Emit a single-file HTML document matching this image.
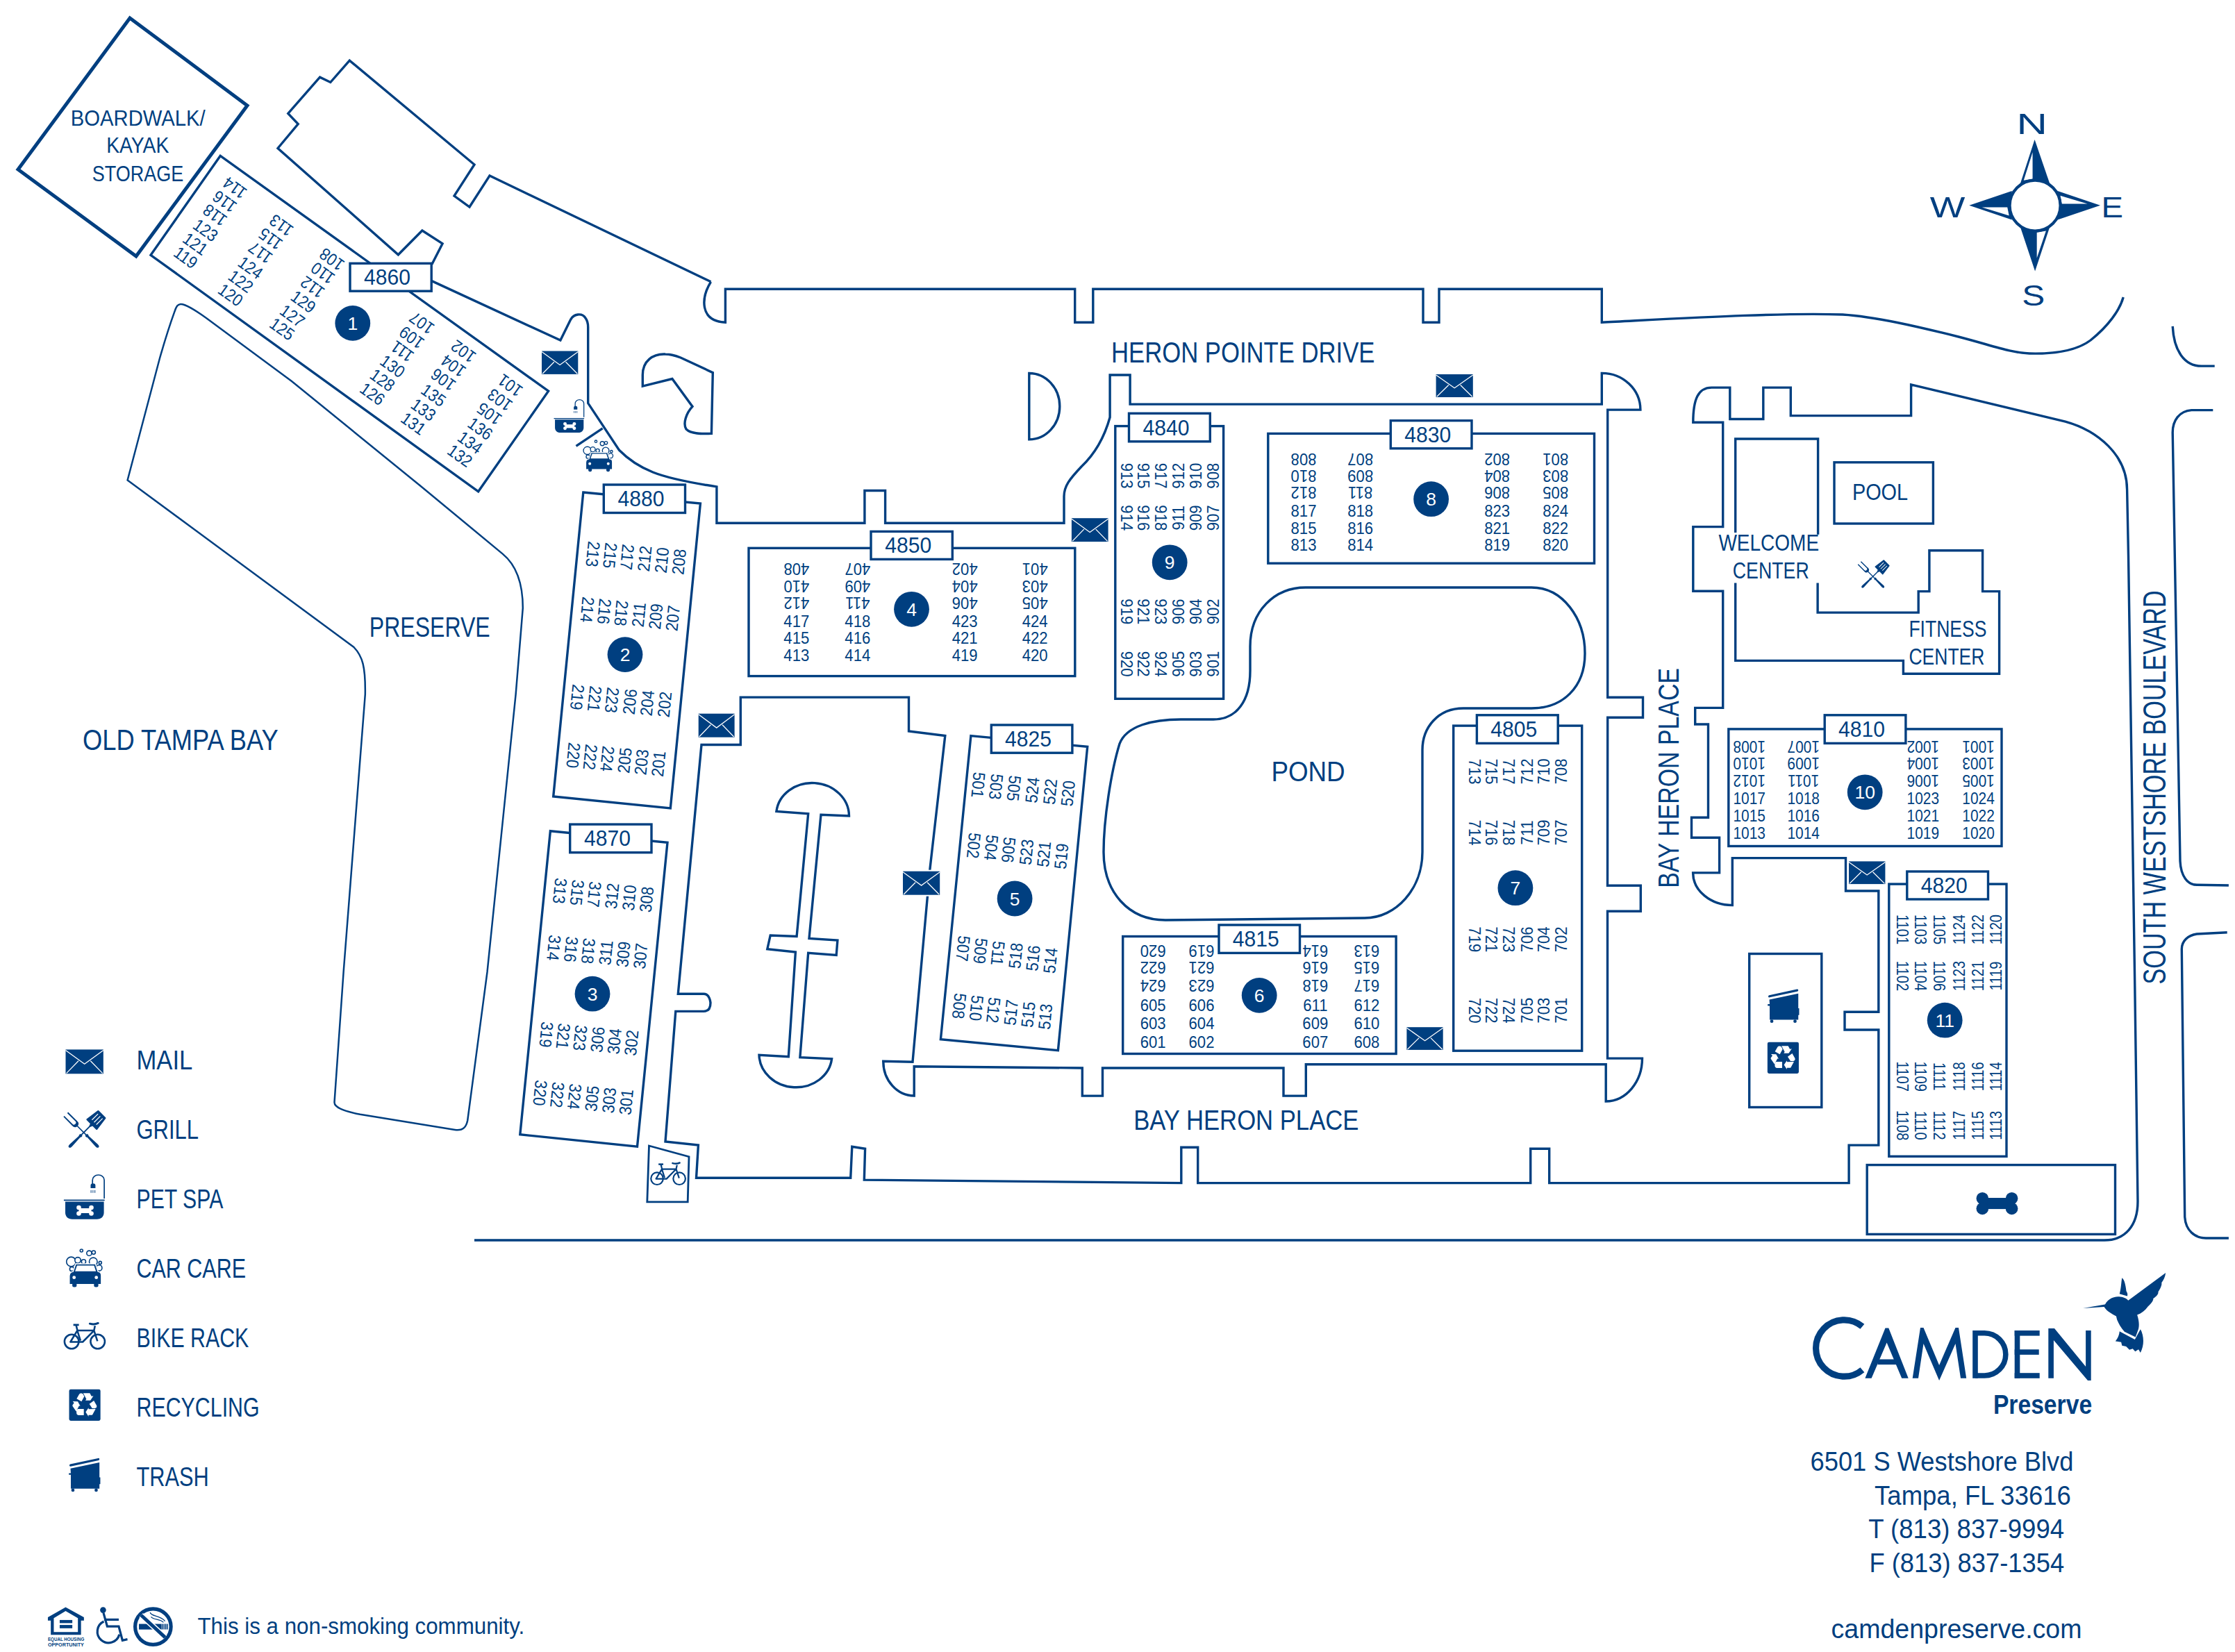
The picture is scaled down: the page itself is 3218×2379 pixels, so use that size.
<!DOCTYPE html>
<html><head><meta charset="utf-8"><style>
html,body{margin:0;padding:0;background:#fff;}
svg{display:block;}
text{font-family:"Liberation Sans",sans-serif;}
</style></head><body>
<svg width="3218" height="2379" viewBox="0 0 3218 2379">
<rect width="3218" height="2379" fill="#fff"/>
<path d="M187.0,26.0 L356.0,152.0 L196.0,369.0 L26.0,244.0 Z" fill="none" stroke="#003f80" stroke-width="5" />
<path d="M621.8,380.7 L637.1,350.9 L607.9,332.0 L573.4,366.8 L400.0,213.5 L429.2,178.6 L414.8,163.4 L460.6,111.1 L475.8,118.5 L503.3,87.1 L683.0,237.0 L654.0,282.0 L676.0,298.0 L705.0,253.0 L1023.5,405.8" fill="none" stroke="#003f80" stroke-width="3.4" />
<path d="M1023.5,405.8 C1010,428 1006,462 1044.4,464.3 L1044.4,416.3 L1547.7,416.3 L1547.7,464.2 L1573.8,464.2 L1573.8,416.3 L2049,416.3 L2049,464.2 L2072,464.2 L2072,416.3 L2306.3,416.3 L2306.3,464.2 C2420,458.5 2560,450 2653,453 C2700,456 2760,470 2820,485 C2870,498 2895,508 2922,509 C2960,510 2990,505 3010,490 C3035,470 3052,447 3057.2,428" fill="none" stroke="#003f80" stroke-width="3.4" />
<path d="M317.2,224.4 L789.6,563.2 L688.7,707.8 L217.0,367.3 Z" fill="none" stroke="#003f80" stroke-width="3.4" />
<path d="M621.2,404.4 L806.9,490.1 L821.7,460.1 C826,452 838,450 843,458 C846,462 846.7,466 846.7,471.2 L846.7,580.6 L891.3,648 C905,662 920,672 940,680 C965,690 1000,696 1031.9,700.9 L1031.9,753.2 L1244.9,753.2 L1244.9,706.5 L1274.6,706.5 L1274.6,753.2 L1532,753.2 L1532,714.8 C1532,700 1540,690 1557,672 C1575,655 1590,630 1598.1,601 L1598.1,540 L1627.1,540 L1627.1,582.1 L2306.3,582.1 L2306.3,537.4 A55.6,52.7 0 0 1 2361.9,590.1 L2314.7,590.1 L2314.7,1004.2 L2365.5,1004.2 L2365.5,1033.2 L2314.7,1033.2 L2314.5,1275.3 L2362.3,1275.3 L2362.3,1312.3 L2314.5,1312.3 L2314.5,1524.1 L2364.5,1524.1 A52.3,62 0 0 1 2312.2,1586 L2312.2,1532.8 L1880.3,1532.8 L1880.3,1578.1 L1848,1578.1 L1848,1538 L1587.5,1538 L1587.5,1578.1 L1558.3,1578.1 L1558.3,1538 L1316.2,1535.7 L1316.2,1578 A44.5,49.7 0 0 1 1271.7,1528.3 L1314,1529.2 L1339,1251 L1360.8,1059.5 L1308.5,1053 L1308.5,1004.1 L1066.3,1004.1 L1066.3,1072.5 L1010,1072.5 L976.3,1431.2 L1013.3,1431.2 C1022,1431.2 1023,1444 1023,1444 C1023,1452 1020,1456.4 1013.3,1456.4 L972.8,1456.4 L958,1643.9 L1005.4,1649.1 L1002.5,1696.3 L1224.7,1696.3 L1226.8,1651.2 L1245.6,1654.2 L1244.3,1699.1 L1700.8,1703.6 L1700.8,1652.2 L1724.7,1652.2 L1724.7,1703.6 L2203.7,1703.6 L2203.7,1654.3 L2230.7,1654.3 L2230.7,1703.6 L2662.1,1703.6 L2662.1,1649.1 L2704.8,1649.1 L2704.8,1483 L2656,1483 L2656,1457.3 L2704.8,1457.3 L2704.8,1283 L2657.5,1283 L2657.5,1235.6 L2494.3,1235.6 L2494.3,1303.6 A56.7,46.7 0 0 1 2437.6,1256.9 L2475.6,1256.9 L2475.6,1206.2 L2435.5,1206.2 L2435.5,1177.2 L2459.5,1177.2 L2459.5,1043 L2440.7,1043 L2440.7,1019.4 L2480.7,1019.4 L2480.7,851.3 L2437.8,851.3 L2437.8,758.6 L2480.7,758.6 L2480.7,608.2 L2437.8,608.2 C2437.8,575 2445,558.1 2464.3,558.1 L2490.8,558.1 L2490.8,603.5 L2538.8,603.5 L2538.8,558.1 L2578.3,558.1 L2578.3,598.6 L2751.6,598.6 L2751.6,553.8 L2973.7,607.1 C3020,620 3062.6,655 3062.6,705.2 L3064.5,800 L3073.8,1420 L3078,1730 C3078,1765 3060,1786 3030,1786 L683,1786" fill="none" stroke="#003f80" stroke-width="3.4" />
<path d="M829.5,642.4 L867.6,616.8" fill="none" stroke="#003f80" stroke-width="3.4" />
<path d="M3128.2,469.8 C3130,505 3145,527.1 3169.8,527.1 L3188.7,527.1" fill="none" stroke="#003f80" stroke-width="3.4" />
<path d="M3186.3,590.6 L3155.3,590.6 C3138,592 3128.2,605 3128.2,622.8 L3139,1240 C3140,1262 3150,1274.3 3163,1274.3 L3208.9,1275" fill="none" stroke="#003f80" stroke-width="3.4" />
<path d="M3206.7,1342.7 L3163,1345 C3150,1347 3141.3,1355 3141.3,1366.7 L3145.7,1752.5 C3147,1772 3160,1783 3176.2,1783 L3208.9,1783" fill="none" stroke="#003f80" stroke-width="3.4" />
<path d="M259,438.2 C266,437 280,446 297,458 L420,549 L605.7,700 L723.7,797.6 C745,815 752.8,845 752.8,875.7 L742.6,999.9 L701.5,1400 L673.2,1613.5 C671,1625 665,1628.5 655,1627 L518.5,1604.8 C495,1600 481.5,1595 481.5,1587.4 L494.6,1400 L525.8,999.9 C526.4,960 522,945 509.5,932 L183.6,691.4 L229.9,516.2 C242,474 248,458 252,447 C254,441 256,438.5 259,438.2 Z" fill="none" stroke="#003f80" stroke-width="2.5" />
<path d="M925.3,556.1 L925.3,540 C925.3,520 940,509 958,510 C966,510 972,512 980,515 L1026.3,536.6 L1024.4,624.3 C1010,625 995,625 988,618 C983,610 988,595 997,585.4 L967.9,545.5 Z" fill="none" stroke="#003f80" stroke-width="3.4" />
<path d="M1481.8,537.5 A44,47.7 0 0 1 1481.8,632.9 Z" fill="none" stroke="#003f80" stroke-width="3.4" />
<path d="M1880,846 L2205,846 C2250,846 2282,890 2282,941 C2282,990 2250,1020 2205,1020 L2107,1020 C2070,1020 2048,1048 2048,1080 L2048,1227 C2048,1280 2010,1322 1965,1322 L1678,1325 C1625,1325 1589,1285 1589,1227 C1589,1180 1600,1110 1612,1071 C1622,1045 1660,1036 1700,1036 L1747,1036 C1780,1036 1800,1010 1800,966 L1800,931 C1800,880 1835,846 1880,846 Z" fill="none" stroke="#003f80" stroke-width="3.4" />
<path d="M1117.9,1168.4 A52.5,47 3.6 0 1 1222.5,1175 L1182,1173.2 L1165,1351.4 L1205.9,1354 L1204.2,1375.4 L1163.7,1372.3 L1151.9,1522.7 L1197.6,1524.8 A52.5,47 3.6 0 1 1093,1519.2 L1135.3,1521.8 L1145.4,1371 L1104.8,1366.7 L1109.2,1347 L1147.1,1348.4 L1163.7,1171.9 Z" fill="none" stroke="#003f80" stroke-width="3.4" />
<path d="M839.8,709.0 L1008.4,725.1 L965.3,1164.0 L796.7,1147.0 Z" fill="none" stroke="#003f80" stroke-width="3.4" />
<path d="M792.4,1196.7 L961.0,1213.3 L917.5,1651.2 L748.8,1633.8 Z" fill="none" stroke="#003f80" stroke-width="3.4" />
<rect x="1078.0" y="789.3" width="469.8" height="184.3" fill="none" stroke="#003f80" stroke-width="3.4"/>
<path d="M1397.9,1059.6 L1565.7,1075.3 L1523.4,1512.7 L1354.4,1496.6 Z" fill="none" stroke="#003f80" stroke-width="3.4" />
<rect x="1616.7" y="1348.5" width="393.4" height="169.0" fill="none" stroke="#003f80" stroke-width="3.4"/>
<rect x="2092.7" y="1045.1" width="185.0" height="468.1" fill="none" stroke="#003f80" stroke-width="3.4"/>
<rect x="1825.8" y="624.4" width="469.7" height="186.8" fill="none" stroke="#003f80" stroke-width="3.4"/>
<rect x="1605.8" y="613.6" width="155.8" height="392.7" fill="none" stroke="#003f80" stroke-width="3.4"/>
<rect x="2488.8" y="1049.9" width="393.2" height="168.6" fill="none" stroke="#003f80" stroke-width="3.4"/>
<rect x="2719.8" y="1273.1" width="169.2" height="392.2" fill="none" stroke="#003f80" stroke-width="3.4"/>
<path d="M2498.7,767 L2498.7,632 L2617.6,632 L2617.6,769.7" fill="none" stroke="#003f80" stroke-width="3.4" />
<path d="M2617.1,839.4 L2617.1,882.1 L2762.2,882.1 L2762.2,851.6 L2777.9,851.6 L2777.9,792.8 L2854.6,792.8 L2854.6,851.6 L2878.6,851.6 L2878.6,970.2 L2740.4,970.2 L2740.4,951.4 L2498.7,951.4 L2498.7,839.5" fill="none" stroke="#003f80" stroke-width="3.4" />
<rect x="2641.0" y="665.8" width="142.4" height="88.2" fill="none" stroke="#003f80" stroke-width="3.4"/>
<rect x="2518.7" y="1373.5" width="104.1" height="221.0" fill="none" stroke="#003f80" stroke-width="3.4"/>
<rect x="2688.2" y="1677.6" width="357.3" height="99.8" fill="none" stroke="#003f80" stroke-width="3.4"/>
<path d="M934.5,1650.0 L992.0,1665.7 L990.2,1730.8 L931.8,1730.8 Z" fill="none" stroke="#003f80" stroke-width="2.8" />
<rect x="504.0" y="379.3" width="117.2" height="39.9" fill="#fff" stroke="#003f80" stroke-width="3.4"/>
<text x="557.6" y="410.2" font-size="30.5" text-anchor="middle" fill="#003f80" textLength="67" lengthAdjust="spacingAndGlyphs">4860</text>
<rect x="869.3" y="698.0" width="117.2" height="40.5" fill="#fff" stroke="#003f80" stroke-width="3.4"/>
<text x="922.9" y="729.2" font-size="30.5" text-anchor="middle" fill="#003f80" textLength="67" lengthAdjust="spacingAndGlyphs">4880</text>
<rect x="820.7" y="1187.1" width="117.3" height="40.6" fill="#fff" stroke="#003f80" stroke-width="3.4"/>
<text x="874.4" y="1218.4" font-size="30.5" text-anchor="middle" fill="#003f80" textLength="67" lengthAdjust="spacingAndGlyphs">4870</text>
<rect x="1254.0" y="765.4" width="117.3" height="40.0" fill="#fff" stroke="#003f80" stroke-width="3.4"/>
<text x="1307.7" y="796.4" font-size="30.5" text-anchor="middle" fill="#003f80" textLength="67" lengthAdjust="spacingAndGlyphs">4850</text>
<rect x="1427.3" y="1044.0" width="116.6" height="40.2" fill="#fff" stroke="#003f80" stroke-width="3.4"/>
<text x="1480.6" y="1075.1" font-size="30.5" text-anchor="middle" fill="#003f80" textLength="67" lengthAdjust="spacingAndGlyphs">4825</text>
<rect x="1755.0" y="1332.0" width="116.5" height="40.4" fill="#fff" stroke="#003f80" stroke-width="3.4"/>
<text x="1808.2" y="1363.2" font-size="30.5" text-anchor="middle" fill="#003f80" textLength="67" lengthAdjust="spacingAndGlyphs">4815</text>
<rect x="2126.4" y="1029.8" width="116.8" height="40.6" fill="#fff" stroke="#003f80" stroke-width="3.4"/>
<text x="2179.8" y="1061.1" font-size="30.5" text-anchor="middle" fill="#003f80" textLength="67" lengthAdjust="spacingAndGlyphs">4805</text>
<rect x="2002.3" y="605.7" width="116.7" height="40.1" fill="#fff" stroke="#003f80" stroke-width="3.4"/>
<text x="2055.7" y="636.8" font-size="30.5" text-anchor="middle" fill="#003f80" textLength="67" lengthAdjust="spacingAndGlyphs">4830</text>
<rect x="1625.5" y="595.3" width="116.8" height="40.5" fill="#fff" stroke="#003f80" stroke-width="3.4"/>
<text x="1678.9" y="626.5" font-size="30.5" text-anchor="middle" fill="#003f80" textLength="67" lengthAdjust="spacingAndGlyphs">4840</text>
<rect x="2627.2" y="1029.8" width="116.7" height="40.6" fill="#fff" stroke="#003f80" stroke-width="3.4"/>
<text x="2680.6" y="1061.1" font-size="30.5" text-anchor="middle" fill="#003f80" textLength="67" lengthAdjust="spacingAndGlyphs">4810</text>
<rect x="2745.8" y="1255.0" width="116.7" height="40.0" fill="#fff" stroke="#003f80" stroke-width="3.4"/>
<text x="2799.2" y="1286.0" font-size="30.5" text-anchor="middle" fill="#003f80" textLength="67" lengthAdjust="spacingAndGlyphs">4820</text>
<circle cx="507.8" cy="465.4" r="25.4" fill="#003f80"/>
<text x="507.8" y="475.0" font-size="26.5" text-anchor="middle" fill="#fff">1</text>
<circle cx="900.0" cy="942.6" r="25.4" fill="#003f80"/>
<text x="900.0" y="952.2" font-size="26.5" text-anchor="middle" fill="#fff">2</text>
<circle cx="853.0" cy="1431.2" r="25.4" fill="#003f80"/>
<text x="853.0" y="1440.8" font-size="26.5" text-anchor="middle" fill="#fff">3</text>
<circle cx="1312.5" cy="877.3" r="25.4" fill="#003f80"/>
<text x="1312.5" y="886.9" font-size="26.5" text-anchor="middle" fill="#fff">4</text>
<circle cx="1461.1" cy="1294.0" r="25.4" fill="#003f80"/>
<text x="1461.1" y="1303.6" font-size="26.5" text-anchor="middle" fill="#fff">5</text>
<circle cx="1813.2" cy="1433.4" r="25.4" fill="#003f80"/>
<text x="1813.2" y="1443.0" font-size="26.5" text-anchor="middle" fill="#fff">6</text>
<circle cx="2181.9" cy="1278.7" r="25.4" fill="#003f80"/>
<text x="2181.9" y="1288.3" font-size="26.5" text-anchor="middle" fill="#fff">7</text>
<circle cx="2060.6" cy="718.7" r="25.4" fill="#003f80"/>
<text x="2060.6" y="728.3" font-size="26.5" text-anchor="middle" fill="#fff">8</text>
<circle cx="1684.2" cy="809.8" r="25.4" fill="#003f80"/>
<text x="1684.2" y="819.4" font-size="26.5" text-anchor="middle" fill="#fff">9</text>
<circle cx="2685.2" cy="1140.8" r="25.4" fill="#003f80"/>
<text x="2685.2" y="1150.4" font-size="26.5" text-anchor="middle" fill="#fff">10</text>
<circle cx="2800.2" cy="1469.2" r="25.4" fill="#003f80"/>
<text x="2800.2" y="1478.8" font-size="26.5" text-anchor="middle" fill="#fff">11</text>
<text transform="translate(1146.8,820.0) rotate(180) scale(0.9,1)" y="8.81" font-size="24.6" text-anchor="middle" fill="#003f80">408</text>
<text transform="translate(1146.8,844.8) rotate(180) scale(0.9,1)" y="8.81" font-size="24.6" text-anchor="middle" fill="#003f80">410</text>
<text transform="translate(1146.8,869.3) rotate(180) scale(0.9,1)" y="8.81" font-size="24.6" text-anchor="middle" fill="#003f80">412</text>
<text transform="translate(1146.8,894.0) rotate(0) scale(0.9,1)" y="8.81" font-size="24.6" text-anchor="middle" fill="#003f80">417</text>
<text transform="translate(1146.8,918.2) rotate(0) scale(0.9,1)" y="8.81" font-size="24.6" text-anchor="middle" fill="#003f80">415</text>
<text transform="translate(1146.8,943.0) rotate(0) scale(0.9,1)" y="8.81" font-size="24.6" text-anchor="middle" fill="#003f80">413</text>
<text transform="translate(1234.8,820.0) rotate(180) scale(0.9,1)" y="8.81" font-size="24.6" text-anchor="middle" fill="#003f80">407</text>
<text transform="translate(1234.8,844.8) rotate(180) scale(0.9,1)" y="8.81" font-size="24.6" text-anchor="middle" fill="#003f80">409</text>
<text transform="translate(1234.8,869.3) rotate(180) scale(0.9,1)" y="8.81" font-size="24.6" text-anchor="middle" fill="#003f80">411</text>
<text transform="translate(1234.8,894.0) rotate(0) scale(0.9,1)" y="8.81" font-size="24.6" text-anchor="middle" fill="#003f80">418</text>
<text transform="translate(1234.8,918.2) rotate(0) scale(0.9,1)" y="8.81" font-size="24.6" text-anchor="middle" fill="#003f80">416</text>
<text transform="translate(1234.8,943.0) rotate(0) scale(0.9,1)" y="8.81" font-size="24.6" text-anchor="middle" fill="#003f80">414</text>
<text transform="translate(1389.2,820.0) rotate(180) scale(0.9,1)" y="8.81" font-size="24.6" text-anchor="middle" fill="#003f80">402</text>
<text transform="translate(1389.2,844.8) rotate(180) scale(0.9,1)" y="8.81" font-size="24.6" text-anchor="middle" fill="#003f80">404</text>
<text transform="translate(1389.2,869.3) rotate(180) scale(0.9,1)" y="8.81" font-size="24.6" text-anchor="middle" fill="#003f80">406</text>
<text transform="translate(1389.2,894.0) rotate(0) scale(0.9,1)" y="8.81" font-size="24.6" text-anchor="middle" fill="#003f80">423</text>
<text transform="translate(1389.2,918.2) rotate(0) scale(0.9,1)" y="8.81" font-size="24.6" text-anchor="middle" fill="#003f80">421</text>
<text transform="translate(1389.2,943.0) rotate(0) scale(0.9,1)" y="8.81" font-size="24.6" text-anchor="middle" fill="#003f80">419</text>
<text transform="translate(1490.2,820.0) rotate(180) scale(0.9,1)" y="8.81" font-size="24.6" text-anchor="middle" fill="#003f80">401</text>
<text transform="translate(1490.2,844.8) rotate(180) scale(0.9,1)" y="8.81" font-size="24.6" text-anchor="middle" fill="#003f80">403</text>
<text transform="translate(1490.2,869.3) rotate(180) scale(0.9,1)" y="8.81" font-size="24.6" text-anchor="middle" fill="#003f80">405</text>
<text transform="translate(1490.2,894.0) rotate(0) scale(0.9,1)" y="8.81" font-size="24.6" text-anchor="middle" fill="#003f80">424</text>
<text transform="translate(1490.2,918.2) rotate(0) scale(0.9,1)" y="8.81" font-size="24.6" text-anchor="middle" fill="#003f80">422</text>
<text transform="translate(1490.2,943.0) rotate(0) scale(0.9,1)" y="8.81" font-size="24.6" text-anchor="middle" fill="#003f80">420</text>
<text transform="translate(1877.0,661.4) rotate(180) scale(0.9,1)" y="8.81" font-size="24.6" text-anchor="middle" fill="#003f80">808</text>
<text transform="translate(1877.0,685.5) rotate(180) scale(0.9,1)" y="8.81" font-size="24.6" text-anchor="middle" fill="#003f80">810</text>
<text transform="translate(1877.0,709.8) rotate(180) scale(0.9,1)" y="8.81" font-size="24.6" text-anchor="middle" fill="#003f80">812</text>
<text transform="translate(1877.0,734.9) rotate(0) scale(0.9,1)" y="8.81" font-size="24.6" text-anchor="middle" fill="#003f80">817</text>
<text transform="translate(1877.0,759.7) rotate(0) scale(0.9,1)" y="8.81" font-size="24.6" text-anchor="middle" fill="#003f80">815</text>
<text transform="translate(1877.0,784.1) rotate(0) scale(0.9,1)" y="8.81" font-size="24.6" text-anchor="middle" fill="#003f80">813</text>
<text transform="translate(1958.7,661.4) rotate(180) scale(0.9,1)" y="8.81" font-size="24.6" text-anchor="middle" fill="#003f80">807</text>
<text transform="translate(1958.7,685.5) rotate(180) scale(0.9,1)" y="8.81" font-size="24.6" text-anchor="middle" fill="#003f80">809</text>
<text transform="translate(1958.7,709.8) rotate(180) scale(0.9,1)" y="8.81" font-size="24.6" text-anchor="middle" fill="#003f80">811</text>
<text transform="translate(1958.7,734.9) rotate(0) scale(0.9,1)" y="8.81" font-size="24.6" text-anchor="middle" fill="#003f80">818</text>
<text transform="translate(1958.7,759.7) rotate(0) scale(0.9,1)" y="8.81" font-size="24.6" text-anchor="middle" fill="#003f80">816</text>
<text transform="translate(1958.7,784.1) rotate(0) scale(0.9,1)" y="8.81" font-size="24.6" text-anchor="middle" fill="#003f80">814</text>
<text transform="translate(2155.6,661.4) rotate(180) scale(0.9,1)" y="8.81" font-size="24.6" text-anchor="middle" fill="#003f80">802</text>
<text transform="translate(2155.6,685.5) rotate(180) scale(0.9,1)" y="8.81" font-size="24.6" text-anchor="middle" fill="#003f80">804</text>
<text transform="translate(2155.6,709.8) rotate(180) scale(0.9,1)" y="8.81" font-size="24.6" text-anchor="middle" fill="#003f80">806</text>
<text transform="translate(2155.6,734.9) rotate(0) scale(0.9,1)" y="8.81" font-size="24.6" text-anchor="middle" fill="#003f80">823</text>
<text transform="translate(2155.6,759.7) rotate(0) scale(0.9,1)" y="8.81" font-size="24.6" text-anchor="middle" fill="#003f80">821</text>
<text transform="translate(2155.6,784.1) rotate(0) scale(0.9,1)" y="8.81" font-size="24.6" text-anchor="middle" fill="#003f80">819</text>
<text transform="translate(2239.7,661.4) rotate(180) scale(0.9,1)" y="8.81" font-size="24.6" text-anchor="middle" fill="#003f80">801</text>
<text transform="translate(2239.7,685.5) rotate(180) scale(0.9,1)" y="8.81" font-size="24.6" text-anchor="middle" fill="#003f80">803</text>
<text transform="translate(2239.7,709.8) rotate(180) scale(0.9,1)" y="8.81" font-size="24.6" text-anchor="middle" fill="#003f80">805</text>
<text transform="translate(2239.7,734.9) rotate(0) scale(0.9,1)" y="8.81" font-size="24.6" text-anchor="middle" fill="#003f80">824</text>
<text transform="translate(2239.7,759.7) rotate(0) scale(0.9,1)" y="8.81" font-size="24.6" text-anchor="middle" fill="#003f80">822</text>
<text transform="translate(2239.7,784.1) rotate(0) scale(0.9,1)" y="8.81" font-size="24.6" text-anchor="middle" fill="#003f80">820</text>
<text transform="translate(1660.2,1369.4) rotate(180) scale(0.9,1)" y="8.81" font-size="24.6" text-anchor="middle" fill="#003f80">620</text>
<text transform="translate(1660.2,1394.2) rotate(180) scale(0.9,1)" y="8.81" font-size="24.6" text-anchor="middle" fill="#003f80">622</text>
<text transform="translate(1660.2,1419.5) rotate(180) scale(0.9,1)" y="8.81" font-size="24.6" text-anchor="middle" fill="#003f80">624</text>
<text transform="translate(1660.2,1447.4) rotate(0) scale(0.9,1)" y="8.81" font-size="24.6" text-anchor="middle" fill="#003f80">605</text>
<text transform="translate(1660.2,1473.5) rotate(0) scale(0.9,1)" y="8.81" font-size="24.6" text-anchor="middle" fill="#003f80">603</text>
<text transform="translate(1660.2,1499.7) rotate(0) scale(0.9,1)" y="8.81" font-size="24.6" text-anchor="middle" fill="#003f80">601</text>
<text transform="translate(1730.0,1369.4) rotate(180) scale(0.9,1)" y="8.81" font-size="24.6" text-anchor="middle" fill="#003f80">619</text>
<text transform="translate(1730.0,1394.2) rotate(180) scale(0.9,1)" y="8.81" font-size="24.6" text-anchor="middle" fill="#003f80">621</text>
<text transform="translate(1730.0,1419.5) rotate(180) scale(0.9,1)" y="8.81" font-size="24.6" text-anchor="middle" fill="#003f80">623</text>
<text transform="translate(1730.0,1447.4) rotate(0) scale(0.9,1)" y="8.81" font-size="24.6" text-anchor="middle" fill="#003f80">606</text>
<text transform="translate(1730.0,1473.5) rotate(0) scale(0.9,1)" y="8.81" font-size="24.6" text-anchor="middle" fill="#003f80">604</text>
<text transform="translate(1730.0,1499.7) rotate(0) scale(0.9,1)" y="8.81" font-size="24.6" text-anchor="middle" fill="#003f80">602</text>
<text transform="translate(1893.8,1369.4) rotate(180) scale(0.9,1)" y="8.81" font-size="24.6" text-anchor="middle" fill="#003f80">614</text>
<text transform="translate(1893.8,1394.2) rotate(180) scale(0.9,1)" y="8.81" font-size="24.6" text-anchor="middle" fill="#003f80">616</text>
<text transform="translate(1893.8,1419.5) rotate(180) scale(0.9,1)" y="8.81" font-size="24.6" text-anchor="middle" fill="#003f80">618</text>
<text transform="translate(1893.8,1447.4) rotate(0) scale(0.9,1)" y="8.81" font-size="24.6" text-anchor="middle" fill="#003f80">611</text>
<text transform="translate(1893.8,1473.5) rotate(0) scale(0.9,1)" y="8.81" font-size="24.6" text-anchor="middle" fill="#003f80">609</text>
<text transform="translate(1893.8,1499.7) rotate(0) scale(0.9,1)" y="8.81" font-size="24.6" text-anchor="middle" fill="#003f80">607</text>
<text transform="translate(1967.9,1369.4) rotate(180) scale(0.9,1)" y="8.81" font-size="24.6" text-anchor="middle" fill="#003f80">613</text>
<text transform="translate(1967.9,1394.2) rotate(180) scale(0.9,1)" y="8.81" font-size="24.6" text-anchor="middle" fill="#003f80">615</text>
<text transform="translate(1967.9,1419.5) rotate(180) scale(0.9,1)" y="8.81" font-size="24.6" text-anchor="middle" fill="#003f80">617</text>
<text transform="translate(1967.9,1447.4) rotate(0) scale(0.9,1)" y="8.81" font-size="24.6" text-anchor="middle" fill="#003f80">612</text>
<text transform="translate(1967.9,1473.5) rotate(0) scale(0.9,1)" y="8.81" font-size="24.6" text-anchor="middle" fill="#003f80">610</text>
<text transform="translate(1967.9,1499.7) rotate(0) scale(0.9,1)" y="8.81" font-size="24.6" text-anchor="middle" fill="#003f80">608</text>
<text transform="translate(2518.7,1076.1) rotate(180) scale(0.85,1)" y="8.81" font-size="24.6" text-anchor="middle" fill="#003f80">1008</text>
<text transform="translate(2518.7,1100.1) rotate(180) scale(0.85,1)" y="8.81" font-size="24.6" text-anchor="middle" fill="#003f80">1010</text>
<text transform="translate(2518.7,1125.0) rotate(180) scale(0.85,1)" y="8.81" font-size="24.6" text-anchor="middle" fill="#003f80">1012</text>
<text transform="translate(2518.7,1149.3) rotate(0) scale(0.85,1)" y="8.81" font-size="24.6" text-anchor="middle" fill="#003f80">1017</text>
<text transform="translate(2518.7,1174.2) rotate(0) scale(0.85,1)" y="8.81" font-size="24.6" text-anchor="middle" fill="#003f80">1015</text>
<text transform="translate(2518.7,1199.0) rotate(0) scale(0.85,1)" y="8.81" font-size="24.6" text-anchor="middle" fill="#003f80">1013</text>
<text transform="translate(2596.7,1076.1) rotate(180) scale(0.85,1)" y="8.81" font-size="24.6" text-anchor="middle" fill="#003f80">1007</text>
<text transform="translate(2596.7,1100.1) rotate(180) scale(0.85,1)" y="8.81" font-size="24.6" text-anchor="middle" fill="#003f80">1009</text>
<text transform="translate(2596.7,1125.0) rotate(180) scale(0.85,1)" y="8.81" font-size="24.6" text-anchor="middle" fill="#003f80">1011</text>
<text transform="translate(2596.7,1149.3) rotate(0) scale(0.85,1)" y="8.81" font-size="24.6" text-anchor="middle" fill="#003f80">1018</text>
<text transform="translate(2596.7,1174.2) rotate(0) scale(0.85,1)" y="8.81" font-size="24.6" text-anchor="middle" fill="#003f80">1016</text>
<text transform="translate(2596.7,1199.0) rotate(0) scale(0.85,1)" y="8.81" font-size="24.6" text-anchor="middle" fill="#003f80">1014</text>
<text transform="translate(2768.8,1076.1) rotate(180) scale(0.85,1)" y="8.81" font-size="24.6" text-anchor="middle" fill="#003f80">1002</text>
<text transform="translate(2768.8,1100.1) rotate(180) scale(0.85,1)" y="8.81" font-size="24.6" text-anchor="middle" fill="#003f80">1004</text>
<text transform="translate(2768.8,1125.0) rotate(180) scale(0.85,1)" y="8.81" font-size="24.6" text-anchor="middle" fill="#003f80">1006</text>
<text transform="translate(2768.8,1149.3) rotate(0) scale(0.85,1)" y="8.81" font-size="24.6" text-anchor="middle" fill="#003f80">1023</text>
<text transform="translate(2768.8,1174.2) rotate(0) scale(0.85,1)" y="8.81" font-size="24.6" text-anchor="middle" fill="#003f80">1021</text>
<text transform="translate(2768.8,1199.0) rotate(0) scale(0.85,1)" y="8.81" font-size="24.6" text-anchor="middle" fill="#003f80">1019</text>
<text transform="translate(2848.6,1076.1) rotate(180) scale(0.85,1)" y="8.81" font-size="24.6" text-anchor="middle" fill="#003f80">1001</text>
<text transform="translate(2848.6,1100.1) rotate(180) scale(0.85,1)" y="8.81" font-size="24.6" text-anchor="middle" fill="#003f80">1003</text>
<text transform="translate(2848.6,1125.0) rotate(180) scale(0.85,1)" y="8.81" font-size="24.6" text-anchor="middle" fill="#003f80">1005</text>
<text transform="translate(2848.6,1149.3) rotate(0) scale(0.85,1)" y="8.81" font-size="24.6" text-anchor="middle" fill="#003f80">1024</text>
<text transform="translate(2848.6,1174.2) rotate(0) scale(0.85,1)" y="8.81" font-size="24.6" text-anchor="middle" fill="#003f80">1022</text>
<text transform="translate(2848.6,1199.0) rotate(0) scale(0.85,1)" y="8.81" font-size="24.6" text-anchor="middle" fill="#003f80">1020</text>
<text transform="translate(1622.6,685.2) rotate(90) scale(0.9,1)" y="8.81" font-size="24.6" text-anchor="middle" fill="#003f80">913</text>
<text transform="translate(1647.3,685.2) rotate(90) scale(0.9,1)" y="8.81" font-size="24.6" text-anchor="middle" fill="#003f80">915</text>
<text transform="translate(1671.9,685.2) rotate(90) scale(0.9,1)" y="8.81" font-size="24.6" text-anchor="middle" fill="#003f80">917</text>
<text transform="translate(1696.5,685.2) rotate(-90) scale(0.9,1)" y="8.81" font-size="24.6" text-anchor="middle" fill="#003f80">912</text>
<text transform="translate(1721.2,685.2) rotate(-90) scale(0.9,1)" y="8.81" font-size="24.6" text-anchor="middle" fill="#003f80">910</text>
<text transform="translate(1745.8,685.2) rotate(-90) scale(0.9,1)" y="8.81" font-size="24.6" text-anchor="middle" fill="#003f80">908</text>
<text transform="translate(1622.6,745.8) rotate(90) scale(0.9,1)" y="8.81" font-size="24.6" text-anchor="middle" fill="#003f80">914</text>
<text transform="translate(1647.3,745.8) rotate(90) scale(0.9,1)" y="8.81" font-size="24.6" text-anchor="middle" fill="#003f80">916</text>
<text transform="translate(1671.9,745.8) rotate(90) scale(0.9,1)" y="8.81" font-size="24.6" text-anchor="middle" fill="#003f80">918</text>
<text transform="translate(1696.5,745.8) rotate(-90) scale(0.9,1)" y="8.81" font-size="24.6" text-anchor="middle" fill="#003f80">911</text>
<text transform="translate(1721.2,745.8) rotate(-90) scale(0.9,1)" y="8.81" font-size="24.6" text-anchor="middle" fill="#003f80">909</text>
<text transform="translate(1745.8,745.8) rotate(-90) scale(0.9,1)" y="8.81" font-size="24.6" text-anchor="middle" fill="#003f80">907</text>
<text transform="translate(1622.6,880.8) rotate(90) scale(0.9,1)" y="8.81" font-size="24.6" text-anchor="middle" fill="#003f80">919</text>
<text transform="translate(1647.3,880.8) rotate(90) scale(0.9,1)" y="8.81" font-size="24.6" text-anchor="middle" fill="#003f80">921</text>
<text transform="translate(1671.9,880.8) rotate(90) scale(0.9,1)" y="8.81" font-size="24.6" text-anchor="middle" fill="#003f80">923</text>
<text transform="translate(1696.5,880.8) rotate(-90) scale(0.9,1)" y="8.81" font-size="24.6" text-anchor="middle" fill="#003f80">906</text>
<text transform="translate(1721.2,880.8) rotate(-90) scale(0.9,1)" y="8.81" font-size="24.6" text-anchor="middle" fill="#003f80">904</text>
<text transform="translate(1745.8,880.8) rotate(-90) scale(0.9,1)" y="8.81" font-size="24.6" text-anchor="middle" fill="#003f80">902</text>
<text transform="translate(1622.6,956.2) rotate(90) scale(0.9,1)" y="8.81" font-size="24.6" text-anchor="middle" fill="#003f80">920</text>
<text transform="translate(1647.3,956.2) rotate(90) scale(0.9,1)" y="8.81" font-size="24.6" text-anchor="middle" fill="#003f80">922</text>
<text transform="translate(1671.9,956.2) rotate(90) scale(0.9,1)" y="8.81" font-size="24.6" text-anchor="middle" fill="#003f80">924</text>
<text transform="translate(1696.5,956.2) rotate(-90) scale(0.9,1)" y="8.81" font-size="24.6" text-anchor="middle" fill="#003f80">905</text>
<text transform="translate(1721.2,956.2) rotate(-90) scale(0.9,1)" y="8.81" font-size="24.6" text-anchor="middle" fill="#003f80">903</text>
<text transform="translate(1745.8,956.2) rotate(-90) scale(0.9,1)" y="8.81" font-size="24.6" text-anchor="middle" fill="#003f80">901</text>
<text transform="translate(2124.0,1111.0) rotate(90) scale(0.9,1)" y="8.81" font-size="24.6" text-anchor="middle" fill="#003f80">713</text>
<text transform="translate(2148.0,1111.0) rotate(90) scale(0.9,1)" y="8.81" font-size="24.6" text-anchor="middle" fill="#003f80">715</text>
<text transform="translate(2172.8,1111.0) rotate(90) scale(0.9,1)" y="8.81" font-size="24.6" text-anchor="middle" fill="#003f80">717</text>
<text transform="translate(2198.0,1111.0) rotate(-90) scale(0.9,1)" y="8.81" font-size="24.6" text-anchor="middle" fill="#003f80">712</text>
<text transform="translate(2222.0,1111.0) rotate(-90) scale(0.9,1)" y="8.81" font-size="24.6" text-anchor="middle" fill="#003f80">710</text>
<text transform="translate(2247.3,1111.0) rotate(-90) scale(0.9,1)" y="8.81" font-size="24.6" text-anchor="middle" fill="#003f80">708</text>
<text transform="translate(2124.0,1199.0) rotate(90) scale(0.9,1)" y="8.81" font-size="24.6" text-anchor="middle" fill="#003f80">714</text>
<text transform="translate(2148.0,1199.0) rotate(90) scale(0.9,1)" y="8.81" font-size="24.6" text-anchor="middle" fill="#003f80">716</text>
<text transform="translate(2172.8,1199.0) rotate(90) scale(0.9,1)" y="8.81" font-size="24.6" text-anchor="middle" fill="#003f80">718</text>
<text transform="translate(2198.0,1199.0) rotate(-90) scale(0.9,1)" y="8.81" font-size="24.6" text-anchor="middle" fill="#003f80">711</text>
<text transform="translate(2222.0,1199.0) rotate(-90) scale(0.9,1)" y="8.81" font-size="24.6" text-anchor="middle" fill="#003f80">709</text>
<text transform="translate(2247.3,1199.0) rotate(-90) scale(0.9,1)" y="8.81" font-size="24.6" text-anchor="middle" fill="#003f80">707</text>
<text transform="translate(2124.0,1352.8) rotate(90) scale(0.9,1)" y="8.81" font-size="24.6" text-anchor="middle" fill="#003f80">719</text>
<text transform="translate(2148.0,1352.8) rotate(90) scale(0.9,1)" y="8.81" font-size="24.6" text-anchor="middle" fill="#003f80">721</text>
<text transform="translate(2172.8,1352.8) rotate(90) scale(0.9,1)" y="8.81" font-size="24.6" text-anchor="middle" fill="#003f80">723</text>
<text transform="translate(2198.0,1352.8) rotate(-90) scale(0.9,1)" y="8.81" font-size="24.6" text-anchor="middle" fill="#003f80">706</text>
<text transform="translate(2222.0,1352.8) rotate(-90) scale(0.9,1)" y="8.81" font-size="24.6" text-anchor="middle" fill="#003f80">704</text>
<text transform="translate(2247.3,1352.8) rotate(-90) scale(0.9,1)" y="8.81" font-size="24.6" text-anchor="middle" fill="#003f80">702</text>
<text transform="translate(2124.0,1455.2) rotate(90) scale(0.9,1)" y="8.81" font-size="24.6" text-anchor="middle" fill="#003f80">720</text>
<text transform="translate(2148.0,1455.2) rotate(90) scale(0.9,1)" y="8.81" font-size="24.6" text-anchor="middle" fill="#003f80">722</text>
<text transform="translate(2172.8,1455.2) rotate(90) scale(0.9,1)" y="8.81" font-size="24.6" text-anchor="middle" fill="#003f80">724</text>
<text transform="translate(2198.0,1455.2) rotate(-90) scale(0.9,1)" y="8.81" font-size="24.6" text-anchor="middle" fill="#003f80">705</text>
<text transform="translate(2222.0,1455.2) rotate(-90) scale(0.9,1)" y="8.81" font-size="24.6" text-anchor="middle" fill="#003f80">703</text>
<text transform="translate(2247.3,1455.2) rotate(-90) scale(0.9,1)" y="8.81" font-size="24.6" text-anchor="middle" fill="#003f80">701</text>
<text transform="translate(2739.5,1338.6) rotate(90) scale(0.82,1)" y="8.81" font-size="24.6" text-anchor="middle" fill="#003f80">1101</text>
<text transform="translate(2766.3,1338.6) rotate(90) scale(0.82,1)" y="8.81" font-size="24.6" text-anchor="middle" fill="#003f80">1103</text>
<text transform="translate(2793.1,1338.6) rotate(90) scale(0.82,1)" y="8.81" font-size="24.6" text-anchor="middle" fill="#003f80">1105</text>
<text transform="translate(2820.4,1338.6) rotate(-90) scale(0.82,1)" y="8.81" font-size="24.6" text-anchor="middle" fill="#003f80">1124</text>
<text transform="translate(2847.6,1338.6) rotate(-90) scale(0.82,1)" y="8.81" font-size="24.6" text-anchor="middle" fill="#003f80">1122</text>
<text transform="translate(2873.0,1338.6) rotate(-90) scale(0.82,1)" y="8.81" font-size="24.6" text-anchor="middle" fill="#003f80">1120</text>
<text transform="translate(2739.5,1405.5) rotate(90) scale(0.82,1)" y="8.81" font-size="24.6" text-anchor="middle" fill="#003f80">1102</text>
<text transform="translate(2766.3,1405.5) rotate(90) scale(0.82,1)" y="8.81" font-size="24.6" text-anchor="middle" fill="#003f80">1104</text>
<text transform="translate(2793.1,1405.5) rotate(90) scale(0.82,1)" y="8.81" font-size="24.6" text-anchor="middle" fill="#003f80">1106</text>
<text transform="translate(2820.4,1405.5) rotate(-90) scale(0.82,1)" y="8.81" font-size="24.6" text-anchor="middle" fill="#003f80">1123</text>
<text transform="translate(2847.6,1405.5) rotate(-90) scale(0.82,1)" y="8.81" font-size="24.6" text-anchor="middle" fill="#003f80">1121</text>
<text transform="translate(2873.0,1405.5) rotate(-90) scale(0.82,1)" y="8.81" font-size="24.6" text-anchor="middle" fill="#003f80">1119</text>
<text transform="translate(2739.5,1550.2) rotate(90) scale(0.82,1)" y="8.81" font-size="24.6" text-anchor="middle" fill="#003f80">1107</text>
<text transform="translate(2766.3,1550.2) rotate(90) scale(0.82,1)" y="8.81" font-size="24.6" text-anchor="middle" fill="#003f80">1109</text>
<text transform="translate(2793.1,1550.2) rotate(90) scale(0.82,1)" y="8.81" font-size="24.6" text-anchor="middle" fill="#003f80">1111</text>
<text transform="translate(2820.4,1550.2) rotate(-90) scale(0.82,1)" y="8.81" font-size="24.6" text-anchor="middle" fill="#003f80">1118</text>
<text transform="translate(2847.6,1550.2) rotate(-90) scale(0.82,1)" y="8.81" font-size="24.6" text-anchor="middle" fill="#003f80">1116</text>
<text transform="translate(2873.0,1550.2) rotate(-90) scale(0.82,1)" y="8.81" font-size="24.6" text-anchor="middle" fill="#003f80">1114</text>
<text transform="translate(2739.5,1620.8) rotate(90) scale(0.82,1)" y="8.81" font-size="24.6" text-anchor="middle" fill="#003f80">1108</text>
<text transform="translate(2766.3,1620.8) rotate(90) scale(0.82,1)" y="8.81" font-size="24.6" text-anchor="middle" fill="#003f80">1110</text>
<text transform="translate(2793.1,1620.8) rotate(90) scale(0.82,1)" y="8.81" font-size="24.6" text-anchor="middle" fill="#003f80">1112</text>
<text transform="translate(2820.4,1620.8) rotate(-90) scale(0.82,1)" y="8.81" font-size="24.6" text-anchor="middle" fill="#003f80">1117</text>
<text transform="translate(2847.6,1620.8) rotate(-90) scale(0.82,1)" y="8.81" font-size="24.6" text-anchor="middle" fill="#003f80">1115</text>
<text transform="translate(2873.0,1620.8) rotate(-90) scale(0.82,1)" y="8.81" font-size="24.6" text-anchor="middle" fill="#003f80">1113</text>
<text transform="translate(853.9,797.9) rotate(95.7) scale(0.9,1)" y="8.81" font-size="24.6" text-anchor="middle" fill="#003f80">213</text>
<text transform="translate(878.6,800.1) rotate(95.7) scale(0.9,1)" y="8.81" font-size="24.6" text-anchor="middle" fill="#003f80">215</text>
<text transform="translate(903.3,802.3) rotate(95.7) scale(0.9,1)" y="8.81" font-size="24.6" text-anchor="middle" fill="#003f80">217</text>
<text transform="translate(927.9,804.6) rotate(-84.3) scale(0.9,1)" y="8.81" font-size="24.6" text-anchor="middle" fill="#003f80">212</text>
<text transform="translate(952.6,806.8) rotate(-84.3) scale(0.9,1)" y="8.81" font-size="24.6" text-anchor="middle" fill="#003f80">210</text>
<text transform="translate(977.3,809.0) rotate(-84.3) scale(0.9,1)" y="8.81" font-size="24.6" text-anchor="middle" fill="#003f80">208</text>
<text transform="translate(845.8,878.0) rotate(95.7) scale(0.9,1)" y="8.81" font-size="24.6" text-anchor="middle" fill="#003f80">214</text>
<text transform="translate(870.3,880.4) rotate(95.7) scale(0.9,1)" y="8.81" font-size="24.6" text-anchor="middle" fill="#003f80">216</text>
<text transform="translate(894.8,882.9) rotate(95.7) scale(0.9,1)" y="8.81" font-size="24.6" text-anchor="middle" fill="#003f80">218</text>
<text transform="translate(919.4,885.3) rotate(-84.3) scale(0.9,1)" y="8.81" font-size="24.6" text-anchor="middle" fill="#003f80">211</text>
<text transform="translate(943.9,887.8) rotate(-84.3) scale(0.9,1)" y="8.81" font-size="24.6" text-anchor="middle" fill="#003f80">209</text>
<text transform="translate(968.4,890.2) rotate(-84.3) scale(0.9,1)" y="8.81" font-size="24.6" text-anchor="middle" fill="#003f80">207</text>
<text transform="translate(831.4,1004.1) rotate(95.7) scale(0.9,1)" y="8.81" font-size="24.6" text-anchor="middle" fill="#003f80">219</text>
<text transform="translate(856.4,1006.2) rotate(95.7) scale(0.9,1)" y="8.81" font-size="24.6" text-anchor="middle" fill="#003f80">221</text>
<text transform="translate(881.4,1008.3) rotate(95.7) scale(0.9,1)" y="8.81" font-size="24.6" text-anchor="middle" fill="#003f80">223</text>
<text transform="translate(906.5,1010.4) rotate(-84.3) scale(0.9,1)" y="8.81" font-size="24.6" text-anchor="middle" fill="#003f80">206</text>
<text transform="translate(931.5,1012.5) rotate(-84.3) scale(0.9,1)" y="8.81" font-size="24.6" text-anchor="middle" fill="#003f80">204</text>
<text transform="translate(956.5,1014.6) rotate(-84.3) scale(0.9,1)" y="8.81" font-size="24.6" text-anchor="middle" fill="#003f80">202</text>
<text transform="translate(825.8,1087.8) rotate(95.7) scale(0.9,1)" y="8.81" font-size="24.6" text-anchor="middle" fill="#003f80">220</text>
<text transform="translate(850.2,1090.2) rotate(95.7) scale(0.9,1)" y="8.81" font-size="24.6" text-anchor="middle" fill="#003f80">222</text>
<text transform="translate(874.6,1092.7) rotate(95.7) scale(0.9,1)" y="8.81" font-size="24.6" text-anchor="middle" fill="#003f80">224</text>
<text transform="translate(899.0,1095.1) rotate(-84.3) scale(0.9,1)" y="8.81" font-size="24.6" text-anchor="middle" fill="#003f80">205</text>
<text transform="translate(923.4,1097.6) rotate(-84.3) scale(0.9,1)" y="8.81" font-size="24.6" text-anchor="middle" fill="#003f80">203</text>
<text transform="translate(947.8,1100.0) rotate(-84.3) scale(0.9,1)" y="8.81" font-size="24.6" text-anchor="middle" fill="#003f80">201</text>
<text transform="translate(806.4,1283.0) rotate(95.7) scale(0.9,1)" y="8.81" font-size="24.6" text-anchor="middle" fill="#003f80">313</text>
<text transform="translate(831.2,1285.4) rotate(95.7) scale(0.9,1)" y="8.81" font-size="24.6" text-anchor="middle" fill="#003f80">315</text>
<text transform="translate(856.0,1287.9) rotate(95.7) scale(0.9,1)" y="8.81" font-size="24.6" text-anchor="middle" fill="#003f80">317</text>
<text transform="translate(880.9,1290.3) rotate(-84.3) scale(0.9,1)" y="8.81" font-size="24.6" text-anchor="middle" fill="#003f80">312</text>
<text transform="translate(905.7,1292.8) rotate(-84.3) scale(0.9,1)" y="8.81" font-size="24.6" text-anchor="middle" fill="#003f80">310</text>
<text transform="translate(930.5,1295.2) rotate(-84.3) scale(0.9,1)" y="8.81" font-size="24.6" text-anchor="middle" fill="#003f80">308</text>
<text transform="translate(797.6,1364.9) rotate(95.7) scale(0.9,1)" y="8.81" font-size="24.6" text-anchor="middle" fill="#003f80">314</text>
<text transform="translate(822.4,1367.3) rotate(95.7) scale(0.9,1)" y="8.81" font-size="24.6" text-anchor="middle" fill="#003f80">316</text>
<text transform="translate(847.3,1369.6) rotate(95.7) scale(0.9,1)" y="8.81" font-size="24.6" text-anchor="middle" fill="#003f80">318</text>
<text transform="translate(872.1,1372.0) rotate(-84.3) scale(0.9,1)" y="8.81" font-size="24.6" text-anchor="middle" fill="#003f80">311</text>
<text transform="translate(897.0,1374.3) rotate(-84.3) scale(0.9,1)" y="8.81" font-size="24.6" text-anchor="middle" fill="#003f80">309</text>
<text transform="translate(921.8,1376.7) rotate(-84.3) scale(0.9,1)" y="8.81" font-size="24.6" text-anchor="middle" fill="#003f80">307</text>
<text transform="translate(786.8,1490.0) rotate(95.7) scale(0.9,1)" y="8.81" font-size="24.6" text-anchor="middle" fill="#003f80">319</text>
<text transform="translate(811.2,1492.3) rotate(95.7) scale(0.9,1)" y="8.81" font-size="24.6" text-anchor="middle" fill="#003f80">321</text>
<text transform="translate(835.6,1494.7) rotate(95.7) scale(0.9,1)" y="8.81" font-size="24.6" text-anchor="middle" fill="#003f80">323</text>
<text transform="translate(860.0,1497.0) rotate(-84.3) scale(0.9,1)" y="8.81" font-size="24.6" text-anchor="middle" fill="#003f80">306</text>
<text transform="translate(884.4,1499.4) rotate(-84.3) scale(0.9,1)" y="8.81" font-size="24.6" text-anchor="middle" fill="#003f80">304</text>
<text transform="translate(908.8,1501.7) rotate(-84.3) scale(0.9,1)" y="8.81" font-size="24.6" text-anchor="middle" fill="#003f80">302</text>
<text transform="translate(778.0,1574.1) rotate(95.7) scale(0.9,1)" y="8.81" font-size="24.6" text-anchor="middle" fill="#003f80">320</text>
<text transform="translate(802.7,1576.7) rotate(95.7) scale(0.9,1)" y="8.81" font-size="24.6" text-anchor="middle" fill="#003f80">322</text>
<text transform="translate(827.4,1579.3) rotate(95.7) scale(0.9,1)" y="8.81" font-size="24.6" text-anchor="middle" fill="#003f80">324</text>
<text transform="translate(852.0,1581.9) rotate(-84.3) scale(0.9,1)" y="8.81" font-size="24.6" text-anchor="middle" fill="#003f80">305</text>
<text transform="translate(876.7,1584.5) rotate(-84.3) scale(0.9,1)" y="8.81" font-size="24.6" text-anchor="middle" fill="#003f80">303</text>
<text transform="translate(901.4,1587.1) rotate(-84.3) scale(0.9,1)" y="8.81" font-size="24.6" text-anchor="middle" fill="#003f80">301</text>
<text transform="translate(1408.8,1130.6) rotate(95.7) scale(0.9,1)" y="8.81" font-size="24.6" text-anchor="middle" fill="#003f80">501</text>
<text transform="translate(1434.5,1133.0) rotate(95.7) scale(0.9,1)" y="8.81" font-size="24.6" text-anchor="middle" fill="#003f80">503</text>
<text transform="translate(1460.2,1135.3) rotate(95.7) scale(0.9,1)" y="8.81" font-size="24.6" text-anchor="middle" fill="#003f80">505</text>
<text transform="translate(1486.0,1137.7) rotate(-84.3) scale(0.9,1)" y="8.81" font-size="24.6" text-anchor="middle" fill="#003f80">524</text>
<text transform="translate(1511.7,1140.0) rotate(-84.3) scale(0.9,1)" y="8.81" font-size="24.6" text-anchor="middle" fill="#003f80">522</text>
<text transform="translate(1537.4,1142.4) rotate(-84.3) scale(0.9,1)" y="8.81" font-size="24.6" text-anchor="middle" fill="#003f80">520</text>
<text transform="translate(1402.3,1217.8) rotate(95.7) scale(0.9,1)" y="8.81" font-size="24.6" text-anchor="middle" fill="#003f80">502</text>
<text transform="translate(1427.4,1220.8) rotate(95.7) scale(0.9,1)" y="8.81" font-size="24.6" text-anchor="middle" fill="#003f80">504</text>
<text transform="translate(1452.5,1223.9) rotate(95.7) scale(0.9,1)" y="8.81" font-size="24.6" text-anchor="middle" fill="#003f80">506</text>
<text transform="translate(1477.6,1226.9) rotate(-84.3) scale(0.9,1)" y="8.81" font-size="24.6" text-anchor="middle" fill="#003f80">523</text>
<text transform="translate(1502.7,1230.0) rotate(-84.3) scale(0.9,1)" y="8.81" font-size="24.6" text-anchor="middle" fill="#003f80">521</text>
<text transform="translate(1527.8,1233.0) rotate(-84.3) scale(0.9,1)" y="8.81" font-size="24.6" text-anchor="middle" fill="#003f80">519</text>
<text transform="translate(1387.0,1365.9) rotate(95.7) scale(0.9,1)" y="8.81" font-size="24.6" text-anchor="middle" fill="#003f80">507</text>
<text transform="translate(1412.0,1369.4) rotate(95.7) scale(0.9,1)" y="8.81" font-size="24.6" text-anchor="middle" fill="#003f80">509</text>
<text transform="translate(1437.0,1372.9) rotate(95.7) scale(0.9,1)" y="8.81" font-size="24.6" text-anchor="middle" fill="#003f80">511</text>
<text transform="translate(1462.1,1376.3) rotate(-84.3) scale(0.9,1)" y="8.81" font-size="24.6" text-anchor="middle" fill="#003f80">518</text>
<text transform="translate(1487.1,1379.8) rotate(-84.3) scale(0.9,1)" y="8.81" font-size="24.6" text-anchor="middle" fill="#003f80">516</text>
<text transform="translate(1512.1,1383.3) rotate(-84.3) scale(0.9,1)" y="8.81" font-size="24.6" text-anchor="middle" fill="#003f80">514</text>
<text transform="translate(1381.4,1448.7) rotate(95.7) scale(0.9,1)" y="8.81" font-size="24.6" text-anchor="middle" fill="#003f80">508</text>
<text transform="translate(1406.1,1451.8) rotate(95.7) scale(0.9,1)" y="8.81" font-size="24.6" text-anchor="middle" fill="#003f80">510</text>
<text transform="translate(1430.7,1454.8) rotate(95.7) scale(0.9,1)" y="8.81" font-size="24.6" text-anchor="middle" fill="#003f80">512</text>
<text transform="translate(1455.4,1457.9) rotate(-84.3) scale(0.9,1)" y="8.81" font-size="24.6" text-anchor="middle" fill="#003f80">517</text>
<text transform="translate(1480.0,1460.9) rotate(-84.3) scale(0.9,1)" y="8.81" font-size="24.6" text-anchor="middle" fill="#003f80">515</text>
<text transform="translate(1504.7,1464.0) rotate(-84.3) scale(0.9,1)" y="8.81" font-size="24.6" text-anchor="middle" fill="#003f80">513</text>
<text transform="translate(337.9,270.9) rotate(215.7) scale(0.9,1)" y="8.81" font-size="24.6" text-anchor="middle" fill="#003f80">114</text>
<text transform="translate(323.2,290.5) rotate(215.7) scale(0.9,1)" y="8.81" font-size="24.6" text-anchor="middle" fill="#003f80">116</text>
<text transform="translate(309.3,310.1) rotate(215.7) scale(0.9,1)" y="8.81" font-size="24.6" text-anchor="middle" fill="#003f80">118</text>
<text transform="translate(296.2,331.3) rotate(35.7) scale(0.9,1)" y="8.81" font-size="24.6" text-anchor="middle" fill="#003f80">123</text>
<text transform="translate(281.5,351.0) rotate(35.7) scale(0.9,1)" y="8.81" font-size="24.6" text-anchor="middle" fill="#003f80">121</text>
<text transform="translate(267.6,370.6) rotate(35.7) scale(0.9,1)" y="8.81" font-size="24.6" text-anchor="middle" fill="#003f80">119</text>
<text transform="translate(404.9,324.8) rotate(215.7) scale(0.9,1)" y="8.81" font-size="24.6" text-anchor="middle" fill="#003f80">113</text>
<text transform="translate(389.4,344.4) rotate(215.7) scale(0.9,1)" y="8.81" font-size="24.6" text-anchor="middle" fill="#003f80">115</text>
<text transform="translate(374.7,364.0) rotate(215.7) scale(0.9,1)" y="8.81" font-size="24.6" text-anchor="middle" fill="#003f80">117</text>
<text transform="translate(360.8,385.3) rotate(35.7) scale(0.9,1)" y="8.81" font-size="24.6" text-anchor="middle" fill="#003f80">124</text>
<text transform="translate(346.9,404.9) rotate(35.7) scale(0.9,1)" y="8.81" font-size="24.6" text-anchor="middle" fill="#003f80">122</text>
<text transform="translate(332.2,424.5) rotate(35.7) scale(0.9,1)" y="8.81" font-size="24.6" text-anchor="middle" fill="#003f80">120</text>
<text transform="translate(477.6,373.8) rotate(215.7) scale(0.9,1)" y="8.81" font-size="24.6" text-anchor="middle" fill="#003f80">108</text>
<text transform="translate(464.6,393.5) rotate(215.7) scale(0.9,1)" y="8.81" font-size="24.6" text-anchor="middle" fill="#003f80">110</text>
<text transform="translate(449.8,413.9) rotate(215.7) scale(0.9,1)" y="8.81" font-size="24.6" text-anchor="middle" fill="#003f80">112</text>
<text transform="translate(436.8,434.3) rotate(35.7) scale(0.9,1)" y="8.81" font-size="24.6" text-anchor="middle" fill="#003f80">129</text>
<text transform="translate(421.2,454.7) rotate(35.7) scale(0.9,1)" y="8.81" font-size="24.6" text-anchor="middle" fill="#003f80">127</text>
<text transform="translate(406.5,473.5) rotate(35.7) scale(0.9,1)" y="8.81" font-size="24.6" text-anchor="middle" fill="#003f80">125</text>
<text transform="translate(607.1,465.4) rotate(215.7) scale(0.9,1)" y="8.81" font-size="24.6" text-anchor="middle" fill="#003f80">107</text>
<text transform="translate(592.6,486.3) rotate(215.7) scale(0.9,1)" y="8.81" font-size="24.6" text-anchor="middle" fill="#003f80">109</text>
<text transform="translate(579.0,506.3) rotate(215.7) scale(0.9,1)" y="8.81" font-size="24.6" text-anchor="middle" fill="#003f80">111</text>
<text transform="translate(565.4,527.2) rotate(35.7) scale(0.9,1)" y="8.81" font-size="24.6" text-anchor="middle" fill="#003f80">130</text>
<text transform="translate(550.8,547.1) rotate(35.7) scale(0.9,1)" y="8.81" font-size="24.6" text-anchor="middle" fill="#003f80">128</text>
<text transform="translate(536.3,567.1) rotate(35.7) scale(0.9,1)" y="8.81" font-size="24.6" text-anchor="middle" fill="#003f80">126</text>
<text transform="translate(667.1,506.3) rotate(215.7) scale(0.9,1)" y="8.81" font-size="24.6" text-anchor="middle" fill="#003f80">102</text>
<text transform="translate(652.5,527.2) rotate(215.7) scale(0.9,1)" y="8.81" font-size="24.6" text-anchor="middle" fill="#003f80">104</text>
<text transform="translate(638.0,547.1) rotate(215.7) scale(0.9,1)" y="8.81" font-size="24.6" text-anchor="middle" fill="#003f80">106</text>
<text transform="translate(624.4,568.9) rotate(35.7) scale(0.9,1)" y="8.81" font-size="24.6" text-anchor="middle" fill="#003f80">135</text>
<text transform="translate(609.9,589.8) rotate(35.7) scale(0.9,1)" y="8.81" font-size="24.6" text-anchor="middle" fill="#003f80">133</text>
<text transform="translate(595.3,609.8) rotate(35.7) scale(0.9,1)" y="8.81" font-size="24.6" text-anchor="middle" fill="#003f80">131</text>
<text transform="translate(734.3,555.3) rotate(215.7) scale(0.9,1)" y="8.81" font-size="24.6" text-anchor="middle" fill="#003f80">101</text>
<text transform="translate(719.7,576.2) rotate(215.7) scale(0.9,1)" y="8.81" font-size="24.6" text-anchor="middle" fill="#003f80">103</text>
<text transform="translate(704.3,596.2) rotate(215.7) scale(0.9,1)" y="8.81" font-size="24.6" text-anchor="middle" fill="#003f80">105</text>
<text transform="translate(691.6,617.1) rotate(35.7) scale(0.9,1)" y="8.81" font-size="24.6" text-anchor="middle" fill="#003f80">136</text>
<text transform="translate(677.1,637.0) rotate(35.7) scale(0.9,1)" y="8.81" font-size="24.6" text-anchor="middle" fill="#003f80">134</text>
<text transform="translate(662.5,656.1) rotate(35.7) scale(0.9,1)" y="8.81" font-size="24.6" text-anchor="middle" fill="#003f80">132</text>
<text x="1600.0" y="521.6" font-size="42.2" text-anchor="start" font-weight="normal" fill="#003f80" textLength="379.5" lengthAdjust="spacingAndGlyphs" font-family="Liberation Sans">HERON POINTE DRIVE</text>
<text x="531.8" y="916.6" font-size="41.1" text-anchor="start" font-weight="normal" fill="#003f80" textLength="173.9" lengthAdjust="spacingAndGlyphs" font-family="Liberation Sans">PRESERVE</text>
<text x="119.0" y="1080.0" font-size="42.4" text-anchor="start" font-weight="normal" fill="#003f80" textLength="281.8" lengthAdjust="spacingAndGlyphs" font-family="Liberation Sans">OLD TAMPA BAY</text>
<text x="1830.4" y="1124.8" font-size="40.0" text-anchor="start" font-weight="normal" fill="#003f80" textLength="106.3" lengthAdjust="spacingAndGlyphs" font-family="Liberation Sans">POND</text>
<text x="1632.2" y="1627.3" font-size="40.0" text-anchor="start" font-weight="normal" fill="#003f80" textLength="324.2" lengthAdjust="spacingAndGlyphs" font-family="Liberation Sans">BAY HERON PLACE</text>
<text x="101.8" y="180.8" font-size="31.7" text-anchor="start" font-weight="normal" fill="#003f80" textLength="193.9" lengthAdjust="spacingAndGlyphs" font-family="Liberation Sans">BOARDWALK/</text>
<text x="153.2" y="220.2" font-size="31.7" text-anchor="start" font-weight="normal" fill="#003f80" textLength="90.2" lengthAdjust="spacingAndGlyphs" font-family="Liberation Sans">KAYAK</text>
<text x="132.7" y="260.6" font-size="31.7" text-anchor="start" font-weight="normal" fill="#003f80" textLength="131.6" lengthAdjust="spacingAndGlyphs" font-family="Liberation Sans">STORAGE</text>
<text x="2474.4" y="792.8" font-size="32.3" text-anchor="start" font-weight="normal" fill="#003f80" textLength="144.7" lengthAdjust="spacingAndGlyphs" font-family="Liberation Sans">WELCOME</text>
<text x="2494.8" y="832.9" font-size="32.3" text-anchor="start" font-weight="normal" fill="#003f80" textLength="109.9" lengthAdjust="spacingAndGlyphs" font-family="Liberation Sans">CENTER</text>
<text x="2748.4" y="916.6" font-size="32.3" text-anchor="start" font-weight="normal" fill="#003f80" textLength="112.1" lengthAdjust="spacingAndGlyphs" font-family="Liberation Sans">FITNESS</text>
<text x="2748.4" y="957.1" font-size="32.3" text-anchor="start" font-weight="normal" fill="#003f80" textLength="109.1" lengthAdjust="spacingAndGlyphs" font-family="Liberation Sans">CENTER</text>
<text x="2666.9" y="719.7" font-size="33.4" text-anchor="start" font-weight="normal" fill="#003f80" textLength="80.2" lengthAdjust="spacingAndGlyphs" font-family="Liberation Sans">POOL</text>
<text transform="translate(2417,1278.8) rotate(-90)" x="0" y="0" font-size="43.0" fill="#003f80" textLength="316.8" lengthAdjust="spacingAndGlyphs">BAY HERON PLACE</text>
<text transform="translate(3118.2,1417.5) rotate(-90)" x="0" y="0" font-size="45.5" fill="#003f80" textLength="567.2" lengthAdjust="spacingAndGlyphs">SOUTH WESTSHORE BOULEVARD</text>
<text x="2903.5" y="193.0" font-size="43.3" text-anchor="start" font-weight="normal" fill="#003f80" textLength="44.4" lengthAdjust="spacingAndGlyphs" font-family="Liberation Sans">N</text>
<text x="2778.7" y="312.9" font-size="43.3" text-anchor="start" font-weight="normal" fill="#003f80" textLength="50.6" lengthAdjust="spacingAndGlyphs" font-family="Liberation Sans">W</text>
<text x="3025.4" y="312.9" font-size="43.3" text-anchor="start" font-weight="normal" fill="#003f80" textLength="31.5" lengthAdjust="spacingAndGlyphs" font-family="Liberation Sans">E</text>
<text x="2911.2" y="439.5" font-size="43.3" text-anchor="start" font-weight="normal" fill="#003f80" textLength="33.0" lengthAdjust="spacingAndGlyphs" font-family="Liberation Sans">S</text>
<text x="196.5" y="1540.3" font-size="37.9" text-anchor="start" font-weight="normal" fill="#003f80" textLength="80.8" lengthAdjust="spacingAndGlyphs" font-family="Liberation Sans">MAIL</text>
<text x="196.5" y="1639.7" font-size="37.9" text-anchor="start" font-weight="normal" fill="#003f80" textLength="89.5" lengthAdjust="spacingAndGlyphs" font-family="Liberation Sans">GRILL</text>
<text x="196.5" y="1739.9" font-size="37.9" text-anchor="start" font-weight="normal" fill="#003f80" textLength="124.8" lengthAdjust="spacingAndGlyphs" font-family="Liberation Sans">PET SPA</text>
<text x="196.5" y="1840.0" font-size="37.9" text-anchor="start" font-weight="normal" fill="#003f80" textLength="157.5" lengthAdjust="spacingAndGlyphs" font-family="Liberation Sans">CAR CARE</text>
<text x="196.5" y="1940.3" font-size="37.9" text-anchor="start" font-weight="normal" fill="#003f80" textLength="161.8" lengthAdjust="spacingAndGlyphs" font-family="Liberation Sans">BIKE RACK</text>
<text x="196.5" y="2039.6" font-size="37.9" text-anchor="start" font-weight="normal" fill="#003f80" textLength="177.1" lengthAdjust="spacingAndGlyphs" font-family="Liberation Sans">RECYCLING</text>
<text x="196.5" y="2140.1" font-size="37.9" text-anchor="start" font-weight="normal" fill="#003f80" textLength="104.3" lengthAdjust="spacingAndGlyphs" font-family="Liberation Sans">TRASH</text>
<text x="2606.5" y="2118.3" font-size="39.7" text-anchor="start" font-weight="normal" fill="#003f80" textLength="378.9" lengthAdjust="spacingAndGlyphs" font-family="Liberation Sans">6501 S Westshore Blvd</text>
<text x="2699.1" y="2167.0" font-size="39.7" text-anchor="start" font-weight="normal" fill="#003f80" textLength="282.8" lengthAdjust="spacingAndGlyphs" font-family="Liberation Sans">Tampa, FL 33616</text>
<text x="2690.3" y="2215.4" font-size="39.7" text-anchor="start" font-weight="normal" fill="#003f80" textLength="281.8" lengthAdjust="spacingAndGlyphs" font-family="Liberation Sans">T (813) 837-9994</text>
<text x="2691.4" y="2264.4" font-size="39.7" text-anchor="start" font-weight="normal" fill="#003f80" textLength="280.7" lengthAdjust="spacingAndGlyphs" font-family="Liberation Sans">F (813) 837-1354</text>
<text x="2636.5" y="2359.0" font-size="38" text-anchor="start" font-weight="normal" fill="#003f80" textLength="361.0" lengthAdjust="spacingAndGlyphs" font-family="Liberation Sans">camdenpreserve.com</text>
<text x="284.5" y="2352.7" font-size="33" text-anchor="start" font-weight="normal" fill="#003f80" textLength="470.7" lengthAdjust="spacingAndGlyphs" font-family="Liberation Sans">This is a non-smoking community.</text>
<rect x="94.5" y="1511.4" width="54.3" height="34.9" fill="#003f80"/>
<path d="M94.5,1512.4 L121.7,1532.3 L148.8,1512.4 M95.6,1545.6 L113.0,1527.8 M147.7,1545.6 L130.3,1527.8" stroke="#fff" stroke-width="1.30" fill="none"/>
<rect x="778.0" y="503.5" width="56.3" height="37.4" fill="#fff"/>
<rect x="780.0" y="505.5" width="52.3" height="33.4" fill="#003f80"/>
<path d="M780.0,506.5 L806.1,525.5 L832.3,506.5 M781.0,538.2 L797.8,521.2 M831.3,538.2 L814.5,521.2" stroke="#fff" stroke-width="1.26" fill="none"/>
<rect x="1540.9" y="744.2" width="56.7" height="37.9" fill="#fff"/>
<rect x="1542.9" y="746.2" width="52.7" height="33.9" fill="#003f80"/>
<path d="M1542.9,747.2 L1569.2,766.5 L1595.6,747.2 M1544.0,779.4 L1560.8,762.1 M1594.5,779.4 L1577.7,762.1" stroke="#fff" stroke-width="1.26" fill="none"/>
<rect x="1003.7" y="1025.7" width="55.9" height="38.0" fill="#fff"/>
<rect x="1005.7" y="1027.7" width="51.9" height="34.0" fill="#003f80"/>
<path d="M1005.7,1028.7 L1031.7,1048.1 L1057.6,1028.7 M1006.7,1061.0 L1023.3,1043.7 M1056.6,1061.0 L1040.0,1043.7" stroke="#fff" stroke-width="1.25" fill="none"/>
<rect x="1298.0" y="1252.7" width="57.2" height="38.0" fill="#fff"/>
<rect x="1300.0" y="1254.7" width="53.2" height="34.0" fill="#003f80"/>
<path d="M1300.0,1255.7 L1326.6,1275.1 L1353.2,1255.7 M1301.1,1288.0 L1318.1,1270.7 M1352.1,1288.0 L1335.1,1270.7" stroke="#fff" stroke-width="1.28" fill="none"/>
<rect x="2065.6" y="537.0" width="57.2" height="37.0" fill="#fff"/>
<rect x="2067.6" y="539.0" width="53.2" height="33.0" fill="#003f80"/>
<path d="M2067.6,540.0 L2094.2,558.8 L2120.8,540.0 M2068.7,571.3 L2085.7,554.5 M2119.7,571.3 L2102.7,554.5" stroke="#fff" stroke-width="1.28" fill="none"/>
<rect x="2023.4" y="1477.2" width="56.3" height="36.7" fill="#fff"/>
<rect x="2025.4" y="1479.2" width="52.3" height="32.7" fill="#003f80"/>
<path d="M2025.4,1480.2 L2051.6,1498.8 L2077.7,1480.2 M2026.4,1511.2 L2043.2,1494.6 M2076.7,1511.2 L2059.9,1494.6" stroke="#fff" stroke-width="1.26" fill="none"/>
<rect x="2660.0" y="1238.4" width="56.4" height="36.7" fill="#fff"/>
<rect x="2662.0" y="1240.4" width="52.4" height="32.7" fill="#003f80"/>
<path d="M2662.0,1241.4 L2688.2,1260.0 L2714.4,1241.4 M2663.0,1272.4 L2679.8,1255.8 M2713.4,1272.4 L2696.6,1255.8" stroke="#fff" stroke-width="1.26" fill="none"/>
<g transform="translate(2670.00,800.00) scale(0.03632)">
<g fill="#003f80" stroke="none">
<g transform="translate(735,830) rotate(-45)">
<path d="M-80,-755 L-80,-380 M80,-755 L80,-380" stroke="#003f80" stroke-width="40" fill="none"/>
<path d="M-100,-400 L-60,-400 C-60,-340 60,-340 60,-400 L100,-400 L100,-340 C90,-290 50,-270 18,-265 L-18,-265 C-50,-270 -90,-290 -100,-340 Z"/>
<path d="M0,-280 L0,110" stroke="#003f80" stroke-width="34"/>
<path d="M-28,160 L28,160 L48,540 C50,600 30,625 0,625 C-30,625 -50,600 -48,540 Z M-45,100 L45,100 L45,165 L-45,165 Z"/>
</g>
<g transform="translate(735,830) rotate(45)">
<path d="M-145,-750 L145,-750 L200,-345 L-200,-345 Z" stroke="#003f80" stroke-width="50" stroke-linejoin="round"/>
<path d="M-90,-690 L-90,-435 M5,-690 L5,-430 M100,-690 L100,-430" stroke="#fff" stroke-width="26"/>
<path d="M-60,-345 L60,-345 L22,-250 L-22,-250 Z"/>
<path d="M0,-260 L0,110" stroke="#003f80" stroke-width="40"/>
<path d="M-28,160 L28,160 L48,540 C50,600 30,625 0,625 C-30,625 -50,600 -48,540 Z M-45,100 L45,100 L45,165 L-45,165 Z"/>
</g>
</g>
</g>
<g transform="translate(85.00,1590.60) scale(0.04843)">
<g fill="#003f80" stroke="none">
<g transform="translate(735,830) rotate(-45)">
<path d="M-80,-755 L-80,-380 M80,-755 L80,-380" stroke="#003f80" stroke-width="40" fill="none"/>
<path d="M-100,-400 L-60,-400 C-60,-340 60,-340 60,-400 L100,-400 L100,-340 C90,-290 50,-270 18,-265 L-18,-265 C-50,-270 -90,-290 -100,-340 Z"/>
<path d="M0,-280 L0,110" stroke="#003f80" stroke-width="34"/>
<path d="M-28,160 L28,160 L48,540 C50,600 30,625 0,625 C-30,625 -50,600 -48,540 Z M-45,100 L45,100 L45,165 L-45,165 Z"/>
</g>
<g transform="translate(735,830) rotate(45)">
<path d="M-145,-750 L145,-750 L200,-345 L-200,-345 Z" stroke="#003f80" stroke-width="50" stroke-linejoin="round"/>
<path d="M-90,-690 L-90,-435 M5,-690 L5,-430 M100,-690 L100,-430" stroke="#fff" stroke-width="26"/>
<path d="M-60,-345 L60,-345 L22,-250 L-22,-250 Z"/>
<path d="M0,-260 L0,110" stroke="#003f80" stroke-width="40"/>
<path d="M-28,160 L28,160 L48,540 C50,600 30,625 0,625 C-30,625 -50,600 -48,540 Z M-45,100 L45,100 L45,165 L-45,165 Z"/>
</g>
</g>
</g>
<g transform="translate(91.50,1692.00) scale(1.00000)">
<path d="M0.4,36.4 L59.2,36.4" stroke="#003f80" stroke-width="1.7"/>
<path d="M2.5,38.5 L58.1,38.5 L58.1,54 C58.1,60 54,63.8 48,63.8 L12.5,63.8 C6.5,63.8 2.5,60 2.5,54 Z" fill="#003f80"/>
<path d="M23,46.5 L39.5,46.5 M23,55.5 L39.5,55.5" stroke="#fff" stroke-width="0"/>
<rect x="22" y="48" width="18" height="7" fill="#fff"/>
<circle cx="22" cy="47" r="3.3" fill="#fff"/>
<circle cx="22" cy="55.5" r="3.3" fill="#fff"/>
<circle cx="40" cy="47" r="3.3" fill="#fff"/>
<circle cx="40" cy="55.5" r="3.3" fill="#fff"/>
<path d="M58.6,34 L58.6,7.5 A8.45,7.5 0 0 0 41.7,7.5 L41.7,13" stroke="#003f80" stroke-width="1.7" fill="none"/>
<path d="M39,19 L39,15 C39,13 40.5,12.3 42.4,12.3 C44.3,12.3 45.9,13 45.9,15 L45.9,19 Z" fill="#003f80"/>
<path d="M39.6,22 L39.6,25.8 M42.4,22 L42.4,25.8 M45.2,22 L45.2,25.8" stroke="#003f80" stroke-width="1"/>
</g>
<g transform="translate(797.20,575.60) scale(0.74200)">
<path d="M0.4,36.4 L59.2,36.4" stroke="#003f80" stroke-width="1.7"/>
<path d="M2.5,38.5 L58.1,38.5 L58.1,54 C58.1,60 54,63.8 48,63.8 L12.5,63.8 C6.5,63.8 2.5,60 2.5,54 Z" fill="#003f80"/>
<path d="M23,46.5 L39.5,46.5 M23,55.5 L39.5,55.5" stroke="#fff" stroke-width="0"/>
<rect x="22" y="48" width="18" height="7" fill="#fff"/>
<circle cx="22" cy="47" r="3.3" fill="#fff"/>
<circle cx="22" cy="55.5" r="3.3" fill="#fff"/>
<circle cx="40" cy="47" r="3.3" fill="#fff"/>
<circle cx="40" cy="55.5" r="3.3" fill="#fff"/>
<path d="M58.6,34 L58.6,7.5 A8.45,7.5 0 0 0 41.7,7.5 L41.7,13" stroke="#003f80" stroke-width="1.7" fill="none"/>
<path d="M39,19 L39,15 C39,13 40.5,12.3 42.4,12.3 C44.3,12.3 45.9,13 45.9,15 L45.9,19 Z" fill="#003f80"/>
<path d="M39.6,22 L39.6,25.8 M42.4,22 L42.4,25.8 M45.2,22 L45.2,25.8" stroke="#003f80" stroke-width="1"/>
</g>
<g transform="translate(93.70,1797.40) scale(1.00000)">
<circle cx="8.8" cy="19.5" r="6.800000000000001" fill="#fff" stroke="#003f80" stroke-width="1.6"/>
<circle cx="18.3" cy="17.4" r="4.2" fill="#fff" stroke="#003f80" stroke-width="1.6"/>
<circle cx="9.8" cy="30.1" r="3.1" fill="#fff" stroke="#003f80" stroke-width="1.6"/>
<circle cx="26.7" cy="19.5" r="3.1" fill="#fff" stroke="#003f80" stroke-width="1.6"/>
<circle cx="40.6" cy="19.5" r="5.800000000000001" fill="#fff" stroke="#003f80" stroke-width="1.6"/>
<circle cx="49" cy="28.5" r="4.2" fill="#fff" stroke="#003f80" stroke-width="1.6"/>
<circle cx="50.6" cy="21" r="2.0" fill="#fff" stroke="#003f80" stroke-width="1.6"/>
<circle cx="23.6" cy="3.6" r="2.0" fill="#fff" stroke="#003f80" stroke-width="1.6"/>
<circle cx="34.7" cy="7.3" r="3.6" fill="#fff" stroke="#003f80" stroke-width="1.6"/>
<circle cx="41.1" cy="6.2" r="2.6" fill="#fff" stroke="#003f80" stroke-width="1.6"/>
<path d="M15.2,22.7 L43.7,22.7 L47.5,33.8 L50,34.5 C52.5,36 52.2,38 52.2,40 L52.2,52.3 L6.1,52.3 L6.1,40 C6.1,38 6.5,36 9,34.5 L11.5,33.8 Z" fill="#003f80" stroke="#fff" stroke-width="1.5"/>
<path d="M17.2,25 L41.7,25 L44.5,33.3 L14.4,33.3 Z" fill="#fff"/>
<rect x="10.4" y="50" width="6.3" height="6" rx="2.5" fill="#003f80"/><rect x="41.6" y="50" width="6.3" height="6" rx="2.5" fill="#003f80"/>
<circle cx="13" cy="42.3" r="2.4" fill="#fff"/><circle cx="45" cy="42.3" r="2.4" fill="#fff"/>
</g>
<g transform="translate(838.40,632.70) scale(0.83000)">
<circle cx="8.8" cy="19.5" r="6.800000000000001" fill="#fff" stroke="#003f80" stroke-width="1.6"/>
<circle cx="18.3" cy="17.4" r="4.2" fill="#fff" stroke="#003f80" stroke-width="1.6"/>
<circle cx="9.8" cy="30.1" r="3.1" fill="#fff" stroke="#003f80" stroke-width="1.6"/>
<circle cx="26.7" cy="19.5" r="3.1" fill="#fff" stroke="#003f80" stroke-width="1.6"/>
<circle cx="40.6" cy="19.5" r="5.800000000000001" fill="#fff" stroke="#003f80" stroke-width="1.6"/>
<circle cx="49" cy="28.5" r="4.2" fill="#fff" stroke="#003f80" stroke-width="1.6"/>
<circle cx="50.6" cy="21" r="2.0" fill="#fff" stroke="#003f80" stroke-width="1.6"/>
<circle cx="23.6" cy="3.6" r="2.0" fill="#fff" stroke="#003f80" stroke-width="1.6"/>
<circle cx="34.7" cy="7.3" r="3.6" fill="#fff" stroke="#003f80" stroke-width="1.6"/>
<circle cx="41.1" cy="6.2" r="2.6" fill="#fff" stroke="#003f80" stroke-width="1.6"/>
<path d="M15.2,22.7 L43.7,22.7 L47.5,33.8 L50,34.5 C52.5,36 52.2,38 52.2,40 L52.2,52.3 L6.1,52.3 L6.1,40 C6.1,38 6.5,36 9,34.5 L11.5,33.8 Z" fill="#003f80" stroke="#fff" stroke-width="1.5"/>
<path d="M17.2,25 L41.7,25 L44.5,33.3 L14.4,33.3 Z" fill="#fff"/>
<rect x="10.4" y="50" width="6.3" height="6" rx="2.5" fill="#003f80"/><rect x="41.6" y="50" width="6.3" height="6" rx="2.5" fill="#003f80"/>
<circle cx="13" cy="42.3" r="2.4" fill="#fff"/><circle cx="45" cy="42.3" r="2.4" fill="#fff"/>
</g>
<g transform="translate(920.00,1640.00) scale(0.06053)">
<g fill="none" stroke="#003f80" stroke-width="36" stroke-linejoin="round">
<circle cx="430" cy="945" r="145"/><circle cx="960" cy="945" r="145"/>
<path d="M405,952 L545,720 L885,720 L655,952 Z M545,720 L610,925 M520,605 L548,720 M885,720 L955,935 M905,625 L885,720"/>
<path d="M465,605 L578,605" stroke-width="40"/>
<path d="M800,580 C850,595 905,600 968,570" stroke-width="42" stroke-linecap="round"/>
</g>
</g>
<g transform="translate(72.70,1865.10) scale(0.07080)">
<g fill="none" stroke="#003f80" stroke-width="36" stroke-linejoin="round">
<circle cx="430" cy="945" r="145"/><circle cx="960" cy="945" r="145"/>
<path d="M405,952 L545,720 L885,720 L655,952 Z M545,720 L610,925 M520,605 L548,720 M885,720 L955,935 M905,625 L885,720"/>
<path d="M465,605 L578,605" stroke-width="40"/>
<path d="M800,580 C850,595 905,600 968,570" stroke-width="42" stroke-linecap="round"/>
</g>
</g>
<g transform="translate(85.00,1895.00) scale(0.15723)">
<path d="M105,1368 L360,1313" stroke="#003f80" stroke-width="20" stroke-linecap="round"/>
<path d="M105,1398 L370,1342 L370,1478 L378,1478 L378,1540 L370,1540 L370,1582 L108,1582 L108,1455 L90,1455 L90,1440 L108,1440 Z" fill="#003f80"/>
<circle cx="127" cy="1596" r="15" fill="#003f80"/><circle cx="340" cy="1596" r="15" fill="#003f80"/>
</g>
<g transform="translate(2531.05,1219.71) scale(0.15723)">
<path d="M105,1368 L360,1313" stroke="#003f80" stroke-width="20" stroke-linecap="round"/>
<path d="M105,1398 L370,1342 L370,1478 L378,1478 L378,1540 L370,1540 L370,1582 L108,1582 L108,1455 L90,1455 L90,1440 L108,1440 Z" fill="#003f80"/>
<circle cx="127" cy="1596" r="15" fill="#003f80"/><circle cx="340" cy="1596" r="15" fill="#003f80"/>
</g>
<g transform="translate(2540.00,1495.00) scale(0.03329)">
<rect x="145" y="170" width="1355" height="1360" rx="70" fill="#003f80"/>
<g fill="#fff">
<path d="M470,580 L560,420 C590,360 620,345 660,345 C700,345 730,360 750,380 L800,480 L680,700 Z"/>
<path d="M755,335 L1040,335 L1115,470 L1195,455 L1065,655 L850,655 L890,590 Z"/>
<path d="M1020,800 L1215,660 L1330,860 C1350,900 1340,960 1300,980 C1270,1000 1220,1000 1190,995 L1140,990 Z"/>
<path d="M1290,1020 L1160,1260 C1150,1280 1120,1285 1100,1285 L985,1285 L985,1350 L860,1160 L985,970 L990,1030 Z"/>
<path d="M780,1020 L780,1290 L560,1290 C500,1290 470,1250 465,1200 L460,1080 L520,1020 Z"/>
<path d="M300,690 L520,700 L630,900 L580,880 L450,1130 L295,900 C285,880 290,860 300,840 L360,760 Z"/>
</g>
</g>
<g transform="translate(94.70,1995.00) scale(0.03329)">
<rect x="145" y="170" width="1355" height="1360" rx="70" fill="#003f80"/>
<g fill="#fff">
<path d="M470,580 L560,420 C590,360 620,345 660,345 C700,345 730,360 750,380 L800,480 L680,700 Z"/>
<path d="M755,335 L1040,335 L1115,470 L1195,455 L1065,655 L850,655 L890,590 Z"/>
<path d="M1020,800 L1215,660 L1330,860 C1350,900 1340,960 1300,980 C1270,1000 1220,1000 1190,995 L1140,990 Z"/>
<path d="M1290,1020 L1160,1260 C1150,1280 1120,1285 1100,1285 L985,1285 L985,1350 L860,1160 L985,970 L990,1030 Z"/>
<path d="M780,1020 L780,1290 L560,1290 C500,1290 470,1250 465,1200 L460,1080 L520,1020 Z"/>
<path d="M300,690 L520,700 L630,900 L580,880 L450,1130 L295,900 C285,880 290,860 300,840 L360,760 Z"/>
</g>
</g>
<g fill="#003f80"><rect x="2856" y="1725" width="40" height="16.1"/><circle cx="2854.3" cy="1725.8" r="8.8"/><circle cx="2854.3" cy="1740.4" r="8.8"/><circle cx="2896.6" cy="1725.8" r="8.8"/><circle cx="2896.6" cy="1740.4" r="8.8"/></g>
<g transform="translate(2780.00,150.00) scale(0.17553)">
<g fill="#003f80">
<path d="M852,290 L975,650 L735,650 Z"/><path d="M1390,830 L1040,712 L1040,948 Z"/><path d="M855,1370 L735,1010 L975,1010 Z"/><path d="M315,830 L665,712 L665,948 Z"/>
</g><g fill="#fff">
<path d="M835,395 L762,625 L835,612 Z"/><path d="M1285,818 L1062,750 L1075,818 Z"/><path d="M870,1262 L945,1040 L870,1052 Z"/><path d="M420,846 L642,915 L628,846 Z"/>
</g>
<circle cx="855" cy="832" r="208" fill="#fff" stroke="#003f80" stroke-width="24"/>
</g>
<g transform="translate(60.00,2305.00) scale(0.08949)">
<path fill="#003f80" fill-rule="evenodd" d="M100,268 L385,105 L680,268 L680,322 L633,322 L633,550 L147,550 L147,322 L100,322 Z M195,282 L385,168 L583,282 L583,505 L195,505 Z"/>
<rect x="290" y="312" width="203" height="50" fill="#003f80"/><rect x="290" y="392" width="203" height="53" fill="#003f80"/>
<text x="100" y="645" font-size="78" fill="#003f80" textLength="585" lengthAdjust="spacingAndGlyphs" font-weight="bold">EQUAL HOUSING</text>
<text x="100" y="735" font-size="78" fill="#003f80" textLength="580" lengthAdjust="spacingAndGlyphs" font-weight="bold">OPPORTUNITY</text>
<circle cx="988" cy="152" r="48" fill="#003f80"/>
<path d="M995,200 L1055,415 L1240,415 L1300,640 L1380,622 M1005,305 L1240,305" stroke="#003f80" stroke-width="36" fill="none"/>
<path d="M1000,335 A180,180 0 1 0 1250,545" stroke="#003f80" stroke-width="36" fill="none"/>
<circle cx="1792" cy="420" r="288" fill="none" stroke="#003f80" stroke-width="58"/>
<rect x="1565" y="375" width="365" height="90" fill="#003f80"/>
<path d="M1950,375 L1950,465 M1985,375 L1985,465 M2018,375 L2018,465" stroke="#003f80" stroke-width="22"/>
<path d="M1600,235 L1985,590" stroke="#fff" stroke-width="90"/>
<path d="M1600,235 L1985,590" stroke="#003f80" stroke-width="56"/>
<path d="M1745,190 C1760,260 1900,230 1985,330 M1760,260 C1790,310 1900,290 1960,350" stroke="#003f80" stroke-width="14" fill="none"/>
</g>
<g fill="#003f80">
<path d="M2681.4,1910.3 A40.7,40.7 0 1 0 2681.4,1972.7" fill="none" stroke="#003f80" stroke-width="9.2"/>
<path d="M2685.4,1984.8 L2714.5,1912.5 L2719.3,1912.5 L2747.7,1984.8 L2738.2,1984.8 L2716.6,1933.6 L2694.6,1984.8 Z"/>
<rect x="2703.5" y="1957.5" width="29" height="7.6"/>
<path d="M2753.7,1984.8 L2765,1912 L2769.5,1912 L2792.1,1966 L2815.5,1912 L2820,1912 L2831.2,1984.8 L2823,1984.8 L2815.5,1935 L2792.1,1988 L2769.5,1935 L2762,1984.8 Z"/>
<rect x="2840.2" y="1916" width="7.6" height="68.8"/>
<path d="M2844,1919.8 L2857.3,1919.8 A30.6,30.6 0 0 1 2857.3,1981 L2844,1981" fill="none" stroke="#003f80" stroke-width="7.6"/>
<rect x="2900.7" y="1916" width="7.6" height="68.8"/><rect x="2900.7" y="1916" width="36" height="7.6"/><rect x="2900.7" y="1943.3" width="35" height="7.6"/><rect x="2900.7" y="1977.2" width="36" height="7.6"/>
<path d="M2949.3,1913 L2958,1913 L3003.1,1968 L3003.1,1916 L3010.7,1916 L3010.7,1988 L3006,1988 L2956.9,1930 L2956.9,1984.8 L2949.3,1984.8 Z"/>
</g>
<text x="2869.9" y="2036.3" font-size="38.7" text-anchor="start" font-weight="bold" fill="#003f80" textLength="142.2" lengthAdjust="spacingAndGlyphs" font-family="Liberation Sans">Preserve</text>
<g transform="translate(2600.00,1820.00) scale(0.23714)">
<g fill="#003f80">
<path d="M1683,270 L1822,246 L1826,260 Z"/>
<path d="M1812,262 C1825,215 1870,195 1910,200 C1935,203 1950,213 1958,222 L2185,55 C2182,80 2172,100 2160,115 C2165,128 2148,160 2140,170 C2142,188 2122,202 2110,210 C2112,228 2082,255 2075,262 C2060,282 2040,300 2012,310 C2022,340 2026,370 2020,395 L2002,445 L1935,412 C1910,385 1890,350 1885,318 C1860,303 1830,290 1812,262 Z"/>
<path d="M1905,410 L1998,460 L2032,397 C2052,432 2058,492 2032,540 L2020,520 L2000,532 L1985,515 L1965,522 L1945,502 L1920,497 L1915,475 L1880,470 C1895,452 1903,432 1905,410 Z"/>
<path d="M1920,85 C1935,95 1942,130 1946,165 C1952,175 1956,185 1952,196 L1905,182 C1915,150 1915,110 1920,85 Z"/>
</g>
</g>
</svg></body></html>
